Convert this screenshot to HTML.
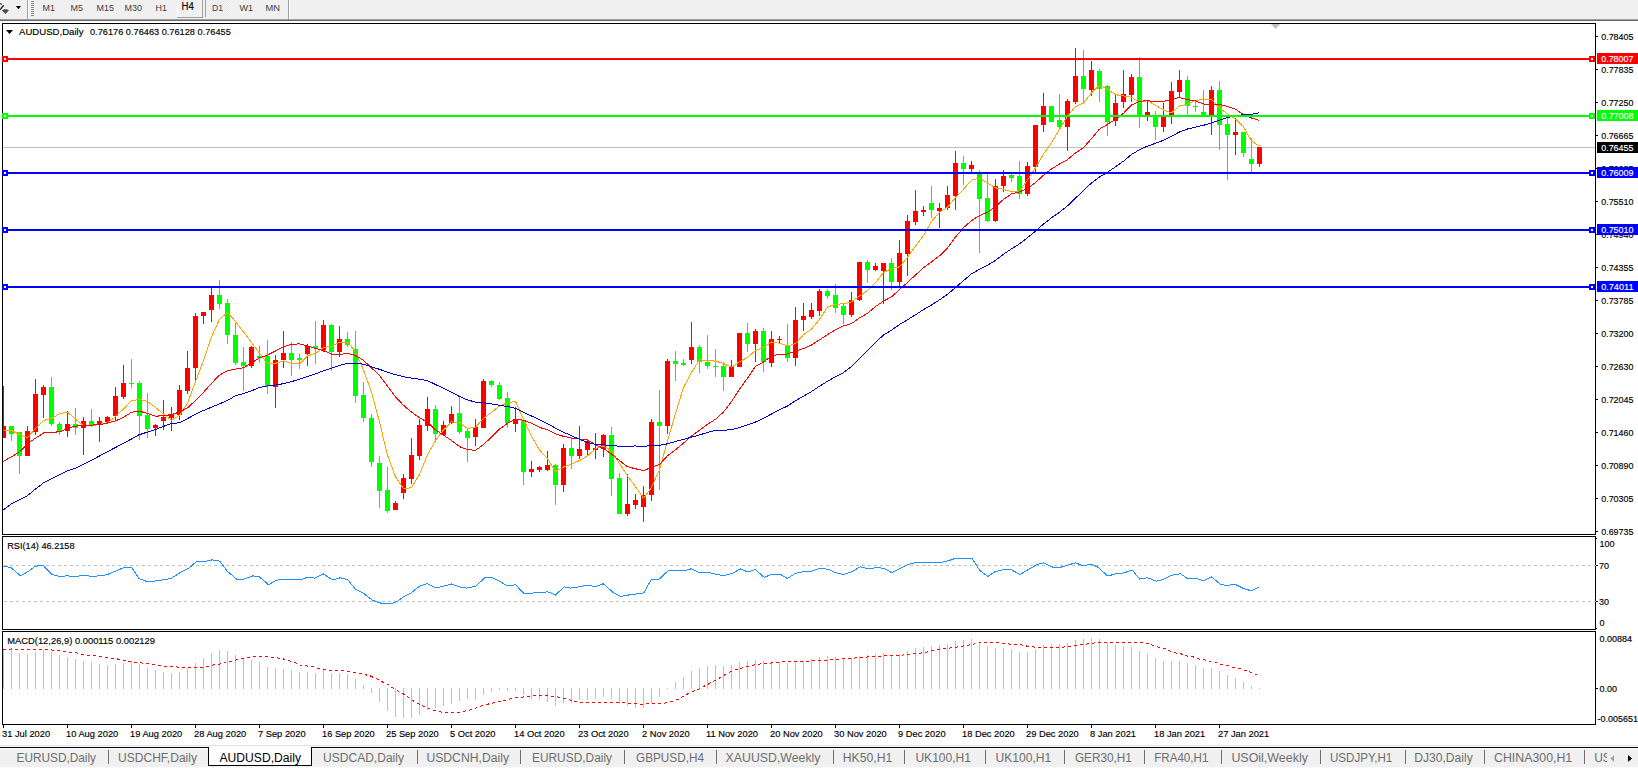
<!DOCTYPE html><html><head><meta charset="utf-8"><title>AUDUSD,Daily</title><style>
html,body{margin:0;padding:0;background:#fff;width:1638px;height:768px;overflow:hidden}
svg{position:absolute;left:0;top:0;display:block}
text{font-family:"Liberation Sans",sans-serif;}
</style></head><body>
<svg width="1638" height="768" viewBox="0 0 1638 768">
<g shape-rendering="crispEdges">
<rect x="0" y="0" width="1638" height="19" fill="#f0f0f0" />
<rect x="0" y="19" width="1638" height="1" fill="#a0a0a0" />
<rect x="0" y="20" width="1638" height="1" fill="#696969" />
<rect x="27" y="0" width="1" height="19" fill="#a0a0a0" />
<rect x="28" y="0" width="1" height="19" fill="#ffffff" />
<rect x="288" y="0" width="1" height="19" fill="#a0a0a0" />
<rect x="289" y="0" width="1" height="19" fill="#ffffff" />
<rect x="205" y="0" width="1" height="17" fill="#a0a0a0" />
<rect x="206" y="0" width="1" height="17" fill="#ffffff" />
<rect x="31" y="1" width="3" height="1" fill="#8a8a8a" />
<rect x="31" y="3" width="3" height="1" fill="#8a8a8a" />
<rect x="31" y="5" width="3" height="1" fill="#8a8a8a" />
<rect x="31" y="7" width="3" height="1" fill="#8a8a8a" />
<rect x="31" y="9" width="3" height="1" fill="#8a8a8a" />
<rect x="31" y="11" width="3" height="1" fill="#8a8a8a" />
<rect x="31" y="13" width="3" height="1" fill="#8a8a8a" />
<rect x="31" y="15" width="3" height="1" fill="#8a8a8a" />
<rect x="177" y="0" width="1" height="17" fill="#ffffff" />
<rect x="177" y="17" width="26" height="1" fill="#a0a0a0" />
<rect x="202" y="0" width="1" height="18" fill="#a0a0a0" />
</g>
<defs><pattern id="hatch" width="2" height="2" patternUnits="userSpaceOnUse"><rect width="2" height="2" fill="#f6f6f6"/><rect width="1" height="1" fill="#e6e6e6"/><rect x="1" y="1" width="1" height="1" fill="#e6e6e6"/></pattern></defs>
<rect x="206" y="0" width="24" height="17" fill="url(#hatch)" />
<path d="M0,3.6 L1.7,4.4" stroke="#3a3a3a" stroke-width="1.3" fill="none"/>
<path d="M3.7,5.3 L0,9.7" stroke="#3a3a3a" stroke-width="1.6" fill="none"/>
<path d="M4.2,9.2 L6.8,9.2 L8.9,10.4 L5.4,14 L2,10.4 Z" fill="#4a4a4a"/>
<path d="M15.9,6 L21,6 L18.5,9.2 Z" fill="#000"/>
<text x="42.5" y="11" font-size="9.8" fill="#404040" textLength="12.4" lengthAdjust="spacingAndGlyphs" >M1</text>
<text x="70.5" y="11" font-size="9.8" fill="#404040" textLength="12.4" lengthAdjust="spacingAndGlyphs" >M5</text>
<text x="96.5" y="11" font-size="9.8" fill="#404040" textLength="17.4" lengthAdjust="spacingAndGlyphs" >M15</text>
<text x="124.5" y="11" font-size="9.8" fill="#404040" textLength="17.5" lengthAdjust="spacingAndGlyphs" >M30</text>
<text x="155.5" y="11" font-size="9.8" fill="#404040" textLength="11.4" lengthAdjust="spacingAndGlyphs" >H1</text>
<text x="181.5" y="10.1" font-size="10" fill="#000" stroke="#000" stroke-width="0.15" textLength="12.3" lengthAdjust="spacingAndGlyphs" >H4</text>
<text x="212" y="11" font-size="9.8" fill="#404040" textLength="11" lengthAdjust="spacingAndGlyphs" >D1</text>
<text x="239.5" y="11" font-size="9.8" fill="#404040" textLength="13.6" lengthAdjust="spacingAndGlyphs" >W1</text>
<text x="265.5" y="11" font-size="9.8" fill="#404040" textLength="14.5" lengthAdjust="spacingAndGlyphs" >MN</text>
<g shape-rendering="crispEdges">
<rect x="2" y="23" width="1594" height="1" fill="#000" />
<rect x="2" y="534" width="1594" height="1" fill="#000" />
<rect x="2" y="23" width="1" height="512" fill="#000" />
<rect x="1595" y="23" width="1" height="512" fill="#000" />
<rect x="2" y="536" width="1594" height="1" fill="#000" />
<rect x="2" y="629" width="1594" height="1" fill="#000" />
<rect x="2" y="536" width="1" height="94" fill="#000" />
<rect x="1595" y="536" width="1" height="94" fill="#000" />
<rect x="2" y="631" width="1594" height="1" fill="#000" />
<rect x="2" y="724" width="1594" height="1" fill="#000" />
<rect x="2" y="631" width="1" height="94" fill="#000" />
<rect x="1595" y="631" width="1" height="94" fill="#000" />
</g>
<rect x="3" y="147" width="1592" height="1" fill="#c0c0c0" shape-rendering="crispEdges"/>
<g shape-rendering="crispEdges">
<rect x="3" y="386" width="1" height="52" fill="#ff0000" />
<rect x="3" y="426" width="3" height="12" fill="#ff0000" />
<rect x="11" y="426" width="1" height="15" fill="#00ff00" />
<rect x="9" y="426" width="5" height="8" fill="#00ff00" />
<rect x="19" y="432" width="1" height="42" fill="#00ff00" />
<rect x="17" y="432" width="5" height="24" fill="#00ff00" />
<rect x="27" y="426" width="1" height="30" fill="#ff0000" />
<rect x="25" y="431" width="5" height="25" fill="#ff0000" />
<rect x="35" y="379" width="1" height="56" fill="#ff0000" />
<rect x="33" y="394" width="5" height="38" fill="#ff0000" />
<rect x="43" y="385" width="1" height="33" fill="#ff0000" />
<rect x="41" y="387" width="5" height="8" fill="#ff0000" />
<rect x="51" y="377" width="1" height="49" fill="#00ff00" />
<rect x="49" y="387" width="5" height="37" fill="#00ff00" />
<rect x="59" y="422" width="1" height="13" fill="#00ff00" />
<rect x="57" y="424" width="5" height="7" fill="#00ff00" />
<rect x="67" y="411" width="1" height="26" fill="#ff0000" />
<rect x="65" y="424" width="5" height="7" fill="#ff0000" />
<rect x="75" y="408" width="1" height="27" fill="#00ff00" />
<rect x="73" y="424" width="5" height="4" fill="#00ff00" />
<rect x="83" y="417" width="1" height="38" fill="#ff0000" />
<rect x="81" y="421" width="5" height="7" fill="#ff0000" />
<rect x="91" y="409" width="1" height="18" fill="#00ff00" />
<rect x="89" y="421" width="5" height="4" fill="#00ff00" />
<rect x="99" y="417" width="1" height="25" fill="#ff0000" />
<rect x="97" y="421" width="5" height="3" fill="#ff0000" />
<rect x="107" y="416" width="1" height="6" fill="#ff0000" />
<rect x="105" y="417" width="5" height="5" fill="#ff0000" />
<rect x="115" y="387" width="1" height="33" fill="#ff0000" />
<rect x="113" y="396" width="5" height="20" fill="#ff0000" />
<rect x="123" y="365" width="1" height="34" fill="#ff0000" />
<rect x="121" y="383" width="5" height="14" fill="#ff0000" />
<rect x="131" y="359" width="1" height="29" fill="#00ff00" />
<rect x="129" y="383" width="5" height="1" fill="#00ff00" />
<rect x="139" y="381" width="1" height="59" fill="#00ff00" />
<rect x="137" y="383" width="5" height="33" fill="#00ff00" />
<rect x="147" y="393" width="1" height="45" fill="#00ff00" />
<rect x="145" y="415" width="5" height="14" fill="#00ff00" />
<rect x="155" y="424" width="1" height="12" fill="#ff0000" />
<rect x="153" y="425" width="5" height="3" fill="#ff0000" />
<rect x="163" y="400" width="1" height="30" fill="#ff0000" />
<rect x="161" y="417" width="5" height="4" fill="#ff0000" />
<rect x="171" y="407" width="1" height="24" fill="#ff0000" />
<rect x="169" y="414" width="5" height="4" fill="#ff0000" />
<rect x="179" y="385" width="1" height="35" fill="#ff0000" />
<rect x="177" y="390" width="5" height="25" fill="#ff0000" />
<rect x="187" y="351" width="1" height="43" fill="#ff0000" />
<rect x="185" y="368" width="5" height="23" fill="#ff0000" />
<rect x="195" y="313" width="1" height="67" fill="#ff0000" />
<rect x="193" y="316" width="5" height="52" fill="#ff0000" />
<rect x="203" y="312" width="1" height="12" fill="#ff0000" />
<rect x="201" y="312" width="5" height="4" fill="#ff0000" />
<rect x="211" y="288" width="1" height="34" fill="#ff0000" />
<rect x="209" y="295" width="5" height="15" fill="#ff0000" />
<rect x="219" y="280" width="1" height="29" fill="#00ff00" />
<rect x="217" y="295" width="5" height="9" fill="#00ff00" />
<rect x="227" y="299" width="1" height="45" fill="#00ff00" />
<rect x="225" y="303" width="5" height="32" fill="#00ff00" />
<rect x="235" y="323" width="1" height="42" fill="#00ff00" />
<rect x="233" y="335" width="5" height="28" fill="#00ff00" />
<rect x="243" y="347" width="1" height="44" fill="#00ff00" />
<rect x="241" y="362" width="5" height="4" fill="#00ff00" />
<rect x="251" y="346" width="1" height="22" fill="#ff0000" />
<rect x="249" y="347" width="5" height="19" fill="#ff0000" />
<rect x="259" y="346" width="1" height="17" fill="#00ff00" />
<rect x="257" y="356" width="5" height="2" fill="#00ff00" />
<rect x="267" y="340" width="1" height="54" fill="#00ff00" />
<rect x="265" y="356" width="5" height="30" fill="#00ff00" />
<rect x="275" y="355" width="1" height="53" fill="#ff0000" />
<rect x="273" y="360" width="5" height="27" fill="#ff0000" />
<rect x="283" y="331" width="1" height="37" fill="#ff0000" />
<rect x="281" y="353" width="5" height="7" fill="#ff0000" />
<rect x="291" y="342" width="1" height="34" fill="#00ff00" />
<rect x="289" y="353" width="5" height="7" fill="#00ff00" />
<rect x="299" y="354" width="1" height="15" fill="#00ff00" />
<rect x="297" y="358" width="5" height="2" fill="#00ff00" />
<rect x="307" y="344" width="1" height="22" fill="#ff0000" />
<rect x="305" y="346" width="5" height="8" fill="#ff0000" />
<rect x="315" y="321" width="1" height="43" fill="#00ff00" />
<rect x="313" y="346" width="5" height="2" fill="#00ff00" />
<rect x="323" y="320" width="1" height="32" fill="#ff0000" />
<rect x="321" y="325" width="5" height="25" fill="#ff0000" />
<rect x="331" y="324" width="1" height="47" fill="#00ff00" />
<rect x="329" y="325" width="5" height="27" fill="#00ff00" />
<rect x="339" y="326" width="1" height="31" fill="#ff0000" />
<rect x="337" y="339" width="5" height="13" fill="#ff0000" />
<rect x="347" y="332" width="1" height="15" fill="#00ff00" />
<rect x="345" y="339" width="5" height="6" fill="#00ff00" />
<rect x="355" y="331" width="1" height="72" fill="#00ff00" />
<rect x="353" y="349" width="5" height="47" fill="#00ff00" />
<rect x="363" y="382" width="1" height="40" fill="#00ff00" />
<rect x="361" y="395" width="5" height="23" fill="#00ff00" />
<rect x="371" y="414" width="1" height="53" fill="#00ff00" />
<rect x="369" y="418" width="5" height="44" fill="#00ff00" />
<rect x="379" y="456" width="1" height="52" fill="#00ff00" />
<rect x="377" y="463" width="5" height="28" fill="#00ff00" />
<rect x="387" y="467" width="1" height="46" fill="#00ff00" />
<rect x="385" y="490" width="5" height="21" fill="#00ff00" />
<rect x="395" y="501" width="1" height="9" fill="#ff0000" />
<rect x="393" y="503" width="5" height="7" fill="#ff0000" />
<rect x="403" y="474" width="1" height="25" fill="#ff0000" />
<rect x="401" y="478" width="5" height="15" fill="#ff0000" />
<rect x="411" y="438" width="1" height="46" fill="#ff0000" />
<rect x="409" y="455" width="5" height="24" fill="#ff0000" />
<rect x="419" y="419" width="1" height="41" fill="#ff0000" />
<rect x="417" y="425" width="5" height="31" fill="#ff0000" />
<rect x="427" y="397" width="1" height="34" fill="#ff0000" />
<rect x="425" y="409" width="5" height="17" fill="#ff0000" />
<rect x="435" y="405" width="1" height="37" fill="#00ff00" />
<rect x="433" y="409" width="5" height="25" fill="#00ff00" />
<rect x="443" y="421" width="1" height="14" fill="#ff0000" />
<rect x="441" y="425" width="5" height="10" fill="#ff0000" />
<rect x="451" y="406" width="1" height="18" fill="#ff0000" />
<rect x="449" y="414" width="5" height="9" fill="#ff0000" />
<rect x="459" y="396" width="1" height="38" fill="#00ff00" />
<rect x="457" y="413" width="5" height="19" fill="#00ff00" />
<rect x="467" y="428" width="1" height="34" fill="#00ff00" />
<rect x="465" y="431" width="5" height="7" fill="#00ff00" />
<rect x="475" y="419" width="1" height="27" fill="#ff0000" />
<rect x="473" y="427" width="5" height="10" fill="#ff0000" />
<rect x="483" y="379" width="1" height="49" fill="#ff0000" />
<rect x="481" y="381" width="5" height="47" fill="#ff0000" />
<rect x="491" y="380" width="1" height="7" fill="#00ff00" />
<rect x="489" y="381" width="5" height="4" fill="#00ff00" />
<rect x="499" y="382" width="1" height="18" fill="#00ff00" />
<rect x="497" y="385" width="5" height="14" fill="#00ff00" />
<rect x="507" y="392" width="1" height="36" fill="#00ff00" />
<rect x="505" y="398" width="5" height="25" fill="#00ff00" />
<rect x="515" y="407" width="1" height="25" fill="#ff0000" />
<rect x="513" y="419" width="5" height="5" fill="#ff0000" />
<rect x="523" y="420" width="1" height="65" fill="#00ff00" />
<rect x="521" y="420" width="5" height="52" fill="#00ff00" />
<rect x="531" y="461" width="1" height="16" fill="#ff0000" />
<rect x="529" y="469" width="5" height="3" fill="#ff0000" />
<rect x="539" y="466" width="1" height="6" fill="#ff0000" />
<rect x="537" y="467" width="5" height="3" fill="#ff0000" />
<rect x="547" y="451" width="1" height="20" fill="#ff0000" />
<rect x="545" y="465" width="5" height="5" fill="#ff0000" />
<rect x="555" y="464" width="1" height="41" fill="#00ff00" />
<rect x="553" y="465" width="5" height="20" fill="#00ff00" />
<rect x="563" y="444" width="1" height="48" fill="#ff0000" />
<rect x="561" y="448" width="5" height="37" fill="#ff0000" />
<rect x="571" y="439" width="1" height="30" fill="#00ff00" />
<rect x="569" y="448" width="5" height="8" fill="#00ff00" />
<rect x="579" y="426" width="1" height="33" fill="#ff0000" />
<rect x="577" y="449" width="5" height="7" fill="#ff0000" />
<rect x="587" y="440" width="1" height="15" fill="#ff0000" />
<rect x="585" y="441" width="5" height="9" fill="#ff0000" />
<rect x="595" y="433" width="1" height="26" fill="#ff0000" />
<rect x="593" y="448" width="5" height="2" fill="#ff0000" />
<rect x="603" y="434" width="1" height="23" fill="#ff0000" />
<rect x="601" y="435" width="5" height="14" fill="#ff0000" />
<rect x="611" y="427" width="1" height="69" fill="#00ff00" />
<rect x="609" y="435" width="5" height="44" fill="#00ff00" />
<rect x="619" y="473" width="1" height="41" fill="#00ff00" />
<rect x="617" y="478" width="5" height="36" fill="#00ff00" />
<rect x="627" y="474" width="1" height="42" fill="#ff0000" />
<rect x="625" y="504" width="5" height="10" fill="#ff0000" />
<rect x="635" y="494" width="1" height="15" fill="#ff0000" />
<rect x="633" y="500" width="5" height="5" fill="#ff0000" />
<rect x="643" y="486" width="1" height="36" fill="#ff0000" />
<rect x="641" y="495" width="5" height="12" fill="#ff0000" />
<rect x="651" y="419" width="1" height="82" fill="#ff0000" />
<rect x="649" y="422" width="5" height="73" fill="#ff0000" />
<rect x="659" y="390" width="1" height="100" fill="#00ff00" />
<rect x="657" y="422" width="5" height="4" fill="#00ff00" />
<rect x="667" y="359" width="1" height="75" fill="#ff0000" />
<rect x="665" y="361" width="5" height="65" fill="#ff0000" />
<rect x="675" y="351" width="1" height="30" fill="#00ff00" />
<rect x="673" y="361" width="5" height="3" fill="#00ff00" />
<rect x="683" y="359" width="1" height="7" fill="#00ff00" />
<rect x="681" y="363" width="5" height="2" fill="#00ff00" />
<rect x="691" y="322" width="1" height="42" fill="#ff0000" />
<rect x="689" y="347" width="5" height="13" fill="#ff0000" />
<rect x="699" y="345" width="1" height="28" fill="#00ff00" />
<rect x="697" y="347" width="5" height="15" fill="#00ff00" />
<rect x="707" y="335" width="1" height="34" fill="#00ff00" />
<rect x="705" y="362" width="5" height="4" fill="#00ff00" />
<rect x="715" y="349" width="1" height="28" fill="#00ff00" />
<rect x="713" y="366" width="5" height="1" fill="#00ff00" />
<rect x="723" y="362" width="1" height="29" fill="#00ff00" />
<rect x="721" y="366" width="5" height="11" fill="#00ff00" />
<rect x="731" y="360" width="1" height="17" fill="#ff0000" />
<rect x="729" y="367" width="5" height="10" fill="#ff0000" />
<rect x="739" y="333" width="1" height="34" fill="#ff0000" />
<rect x="737" y="333" width="5" height="34" fill="#ff0000" />
<rect x="747" y="323" width="1" height="29" fill="#00ff00" />
<rect x="745" y="333" width="5" height="11" fill="#00ff00" />
<rect x="755" y="329" width="1" height="33" fill="#ff0000" />
<rect x="753" y="331" width="5" height="13" fill="#ff0000" />
<rect x="763" y="328" width="1" height="44" fill="#00ff00" />
<rect x="761" y="331" width="5" height="31" fill="#00ff00" />
<rect x="771" y="331" width="1" height="36" fill="#ff0000" />
<rect x="769" y="339" width="5" height="24" fill="#ff0000" />
<rect x="779" y="336" width="1" height="7" fill="#ff0000" />
<rect x="777" y="339" width="5" height="1" fill="#ff0000" />
<rect x="787" y="324" width="1" height="38" fill="#00ff00" />
<rect x="785" y="345" width="5" height="13" fill="#00ff00" />
<rect x="795" y="307" width="1" height="59" fill="#ff0000" />
<rect x="793" y="320" width="5" height="38" fill="#ff0000" />
<rect x="803" y="303" width="1" height="28" fill="#ff0000" />
<rect x="801" y="316" width="5" height="4" fill="#ff0000" />
<rect x="811" y="303" width="1" height="16" fill="#ff0000" />
<rect x="809" y="310" width="5" height="7" fill="#ff0000" />
<rect x="819" y="289" width="1" height="27" fill="#ff0000" />
<rect x="817" y="291" width="5" height="20" fill="#ff0000" />
<rect x="827" y="289" width="1" height="10" fill="#00ff00" />
<rect x="825" y="291" width="5" height="5" fill="#00ff00" />
<rect x="835" y="284" width="1" height="29" fill="#00ff00" />
<rect x="833" y="295" width="5" height="13" fill="#00ff00" />
<rect x="843" y="304" width="1" height="20" fill="#00ff00" />
<rect x="841" y="306" width="5" height="9" fill="#00ff00" />
<rect x="851" y="292" width="1" height="25" fill="#ff0000" />
<rect x="849" y="300" width="5" height="15" fill="#ff0000" />
<rect x="859" y="262" width="1" height="39" fill="#ff0000" />
<rect x="857" y="262" width="5" height="38" fill="#ff0000" />
<rect x="867" y="260" width="1" height="23" fill="#00ff00" />
<rect x="865" y="262" width="5" height="8" fill="#00ff00" />
<rect x="875" y="263" width="1" height="8" fill="#ff0000" />
<rect x="873" y="266" width="5" height="4" fill="#ff0000" />
<rect x="883" y="263" width="1" height="41" fill="#ff0000" />
<rect x="881" y="263" width="5" height="8" fill="#ff0000" />
<rect x="891" y="258" width="1" height="32" fill="#00ff00" />
<rect x="889" y="263" width="5" height="19" fill="#00ff00" />
<rect x="899" y="240" width="1" height="46" fill="#ff0000" />
<rect x="897" y="253" width="5" height="29" fill="#ff0000" />
<rect x="907" y="215" width="1" height="61" fill="#ff0000" />
<rect x="905" y="221" width="5" height="33" fill="#ff0000" />
<rect x="915" y="190" width="1" height="35" fill="#ff0000" />
<rect x="913" y="211" width="5" height="11" fill="#ff0000" />
<rect x="923" y="206" width="1" height="10" fill="#ff0000" />
<rect x="921" y="210" width="5" height="2" fill="#ff0000" />
<rect x="931" y="186" width="1" height="32" fill="#00ff00" />
<rect x="929" y="203" width="5" height="7" fill="#00ff00" />
<rect x="939" y="203" width="1" height="25" fill="#ff0000" />
<rect x="937" y="208" width="5" height="3" fill="#ff0000" />
<rect x="947" y="186" width="1" height="24" fill="#ff0000" />
<rect x="945" y="195" width="5" height="13" fill="#ff0000" />
<rect x="955" y="151" width="1" height="59" fill="#ff0000" />
<rect x="953" y="163" width="5" height="33" fill="#ff0000" />
<rect x="963" y="156" width="1" height="29" fill="#00ff00" />
<rect x="961" y="163" width="5" height="6" fill="#00ff00" />
<rect x="971" y="161" width="1" height="11" fill="#ff0000" />
<rect x="969" y="165" width="5" height="4" fill="#ff0000" />
<rect x="979" y="170" width="1" height="83" fill="#00ff00" />
<rect x="977" y="173" width="5" height="26" fill="#00ff00" />
<rect x="987" y="174" width="1" height="48" fill="#00ff00" />
<rect x="985" y="198" width="5" height="23" fill="#00ff00" />
<rect x="995" y="179" width="1" height="43" fill="#ff0000" />
<rect x="993" y="186" width="5" height="35" fill="#ff0000" />
<rect x="1003" y="170" width="1" height="22" fill="#ff0000" />
<rect x="1001" y="176" width="5" height="10" fill="#ff0000" />
<rect x="1011" y="174" width="1" height="8" fill="#00ff00" />
<rect x="1009" y="175" width="5" height="3" fill="#00ff00" />
<rect x="1019" y="161" width="1" height="38" fill="#00ff00" />
<rect x="1017" y="176" width="5" height="18" fill="#00ff00" />
<rect x="1027" y="162" width="1" height="34" fill="#ff0000" />
<rect x="1025" y="166" width="5" height="28" fill="#ff0000" />
<rect x="1035" y="125" width="1" height="47" fill="#ff0000" />
<rect x="1033" y="125" width="5" height="42" fill="#ff0000" />
<rect x="1043" y="93" width="1" height="39" fill="#ff0000" />
<rect x="1041" y="106" width="5" height="19" fill="#ff0000" />
<rect x="1051" y="106" width="1" height="16" fill="#00ff00" />
<rect x="1049" y="106" width="5" height="16" fill="#00ff00" />
<rect x="1059" y="94" width="1" height="35" fill="#00ff00" />
<rect x="1057" y="120" width="5" height="7" fill="#00ff00" />
<rect x="1067" y="99" width="1" height="52" fill="#ff0000" />
<rect x="1065" y="101" width="5" height="26" fill="#ff0000" />
<rect x="1075" y="48" width="1" height="56" fill="#ff0000" />
<rect x="1073" y="76" width="5" height="26" fill="#ff0000" />
<rect x="1083" y="50" width="1" height="53" fill="#00ff00" />
<rect x="1081" y="76" width="5" height="13" fill="#00ff00" />
<rect x="1091" y="61" width="1" height="35" fill="#ff0000" />
<rect x="1089" y="70" width="5" height="20" fill="#ff0000" />
<rect x="1099" y="69" width="1" height="33" fill="#00ff00" />
<rect x="1097" y="71" width="5" height="18" fill="#00ff00" />
<rect x="1107" y="85" width="1" height="51" fill="#00ff00" />
<rect x="1105" y="86" width="5" height="36" fill="#00ff00" />
<rect x="1115" y="95" width="1" height="31" fill="#ff0000" />
<rect x="1113" y="103" width="5" height="18" fill="#ff0000" />
<rect x="1123" y="70" width="1" height="38" fill="#ff0000" />
<rect x="1121" y="94" width="5" height="8" fill="#ff0000" />
<rect x="1131" y="74" width="1" height="28" fill="#ff0000" />
<rect x="1129" y="77" width="5" height="18" fill="#ff0000" />
<rect x="1139" y="57" width="1" height="71" fill="#00ff00" />
<rect x="1137" y="77" width="5" height="39" fill="#00ff00" />
<rect x="1147" y="100" width="1" height="21" fill="#ff0000" />
<rect x="1145" y="112" width="5" height="3" fill="#ff0000" />
<rect x="1155" y="111" width="1" height="29" fill="#00ff00" />
<rect x="1153" y="115" width="5" height="12" fill="#00ff00" />
<rect x="1163" y="103" width="1" height="29" fill="#ff0000" />
<rect x="1161" y="117" width="5" height="10" fill="#ff0000" />
<rect x="1171" y="82" width="1" height="42" fill="#ff0000" />
<rect x="1169" y="91" width="5" height="24" fill="#ff0000" />
<rect x="1179" y="70" width="1" height="28" fill="#ff0000" />
<rect x="1177" y="80" width="5" height="12" fill="#ff0000" />
<rect x="1187" y="76" width="1" height="39" fill="#00ff00" />
<rect x="1185" y="80" width="5" height="26" fill="#00ff00" />
<rect x="1195" y="100" width="1" height="12" fill="#00ff00" />
<rect x="1193" y="106" width="5" height="1" fill="#00ff00" />
<rect x="1203" y="90" width="1" height="25" fill="#00ff00" />
<rect x="1201" y="112" width="5" height="3" fill="#00ff00" />
<rect x="1211" y="86" width="1" height="49" fill="#ff0000" />
<rect x="1209" y="90" width="5" height="25" fill="#ff0000" />
<rect x="1219" y="81" width="1" height="69" fill="#00ff00" />
<rect x="1217" y="90" width="5" height="35" fill="#00ff00" />
<rect x="1227" y="118" width="1" height="62" fill="#00ff00" />
<rect x="1225" y="124" width="5" height="11" fill="#00ff00" />
<rect x="1235" y="118" width="1" height="37" fill="#ff0000" />
<rect x="1233" y="132" width="5" height="3" fill="#ff0000" />
<rect x="1243" y="132" width="1" height="25" fill="#00ff00" />
<rect x="1241" y="132" width="5" height="21" fill="#00ff00" />
<rect x="1251" y="138" width="1" height="34" fill="#00ff00" />
<rect x="1249" y="159" width="5" height="5" fill="#00ff00" />
<rect x="1259" y="147" width="1" height="20" fill="#ff0000" />
<rect x="1257" y="147" width="5" height="17" fill="#ff0000" />
</g>
<g clip-path="url(#mainclip)">
<clipPath id="mainclip"><rect x="3" y="24" width="1592" height="510"/></clipPath>
<polyline points="3.5,430.0 11.5,430.5 19.5,434.5 27.5,437.7 35.5,428.3 43.5,420.5 51.5,418.6 59.5,413.7 67.5,412.3 75.5,419.0 83.5,425.8 91.5,426.0 99.5,424.3 107.5,422.8 115.5,416.6 123.5,408.9 131.5,400.7 139.5,399.4 147.5,401.5 155.5,407.3 163.5,414.1 171.5,420.2 179.5,415.3 187.5,403.4 195.5,381.6 203.5,360.6 211.5,336.8 219.5,319.3 227.5,312.4 235.5,321.5 243.5,332.0 251.5,342.4 259.5,353.3 267.5,363.6 275.5,363.3 283.5,361.0 291.5,363.4 299.5,363.9 307.5,356.0 315.5,353.3 323.5,347.7 331.5,346.3 339.5,342.3 347.5,342.0 355.5,351.5 363.5,370.0 371.5,392.0 379.5,422.1 387.5,455.1 395.5,476.8 403.5,488.9 411.5,487.6 419.5,474.6 427.5,454.6 435.5,440.5 443.5,429.9 451.5,421.8 459.5,422.9 467.5,428.4 475.5,427.3 483.5,418.4 491.5,412.4 499.5,405.9 507.5,402.9 515.5,401.3 523.5,419.2 531.5,436.3 539.5,450.0 547.5,458.7 555.5,471.6 563.5,467.0 571.5,464.1 579.5,460.6 587.5,455.8 595.5,448.6 603.5,446.0 611.5,450.7 619.5,463.5 627.5,476.1 635.5,486.6 643.5,498.5 651.5,487.3 659.5,469.6 667.5,441.0 675.5,413.5 683.5,387.4 691.5,372.4 699.5,359.8 707.5,360.5 715.5,361.1 723.5,363.5 731.5,367.4 739.5,361.6 747.5,357.4 755.5,350.5 763.5,347.6 771.5,342.0 779.5,343.3 787.5,345.9 795.5,343.7 803.5,334.7 811.5,329.0 819.5,319.4 827.5,307.0 835.5,304.3 843.5,303.8 851.5,301.8 859.5,296.0 867.5,290.8 875.5,282.7 883.5,272.5 891.5,268.6 899.5,266.8 907.5,257.3 915.5,246.2 923.5,235.6 931.5,221.4 939.5,212.4 947.5,207.2 955.5,197.6 963.5,189.2 971.5,180.2 979.5,178.2 987.5,183.1 995.5,187.8 1003.5,189.4 1011.5,191.9 1019.5,190.9 1027.5,180.1 1035.5,167.8 1043.5,153.9 1051.5,142.6 1059.5,129.4 1067.5,116.3 1075.5,106.5 1083.5,103.0 1091.5,92.8 1099.5,85.2 1107.5,89.3 1115.5,94.7 1123.5,95.9 1131.5,97.2 1139.5,102.5 1147.5,100.7 1155.5,105.3 1163.5,110.0 1171.5,112.8 1179.5,105.9 1187.5,104.3 1195.5,100.3 1203.5,99.6 1211.5,99.4 1219.5,108.1 1227.5,113.9 1235.5,119.1 1243.5,126.7 1251.5,141.2 1259.5,145.9" fill="none" stroke="#ffa500" stroke-width="1" shape-rendering="crispEdges" />
<polyline points="3.1,461.6 18.7,452.5 30.5,441.5 43.5,433.0 60.5,431.7 68.2,427.8 78.5,425.8 91.5,425.2 104.5,423.9 107.5,423.0 115.5,420.9 123.5,417.3 131.5,412.2 139.5,411.1 147.5,413.5 155.5,416.2 163.5,415.7 171.5,414.6 179.5,412.1 187.5,407.9 195.5,400.4 203.5,392.4 211.5,383.3 219.5,375.1 227.5,370.7 235.5,369.1 243.5,367.8 251.5,363.0 259.5,357.9 267.5,355.1 275.5,351.0 283.5,346.7 291.5,344.4 299.5,343.8 307.5,346.0 315.5,348.4 323.5,350.6 331.5,354.1 339.5,354.5 347.5,353.3 355.5,355.4 363.5,360.4 371.5,367.9 379.5,375.4 387.5,386.1 395.5,396.8 403.5,405.3 411.5,412.1 419.5,417.7 427.5,422.2 435.5,429.9 443.5,435.1 451.5,440.5 459.5,446.6 467.5,449.7 475.5,450.3 483.5,444.6 491.5,437.0 499.5,429.1 507.5,423.3 515.5,419.0 523.5,420.2 531.5,423.3 539.5,427.4 547.5,429.8 555.5,433.9 563.5,436.3 571.5,438.1 579.5,438.9 587.5,439.9 595.5,444.7 603.5,448.4 611.5,454.1 619.5,460.6 627.5,466.7 635.5,468.8 643.5,470.6 651.5,467.4 659.5,464.5 667.5,455.7 675.5,449.7 683.5,443.2 691.5,435.9 699.5,430.2 707.5,424.3 715.5,419.3 723.5,412.0 731.5,401.6 739.5,389.3 747.5,378.1 755.5,366.4 763.5,362.1 771.5,356.0 779.5,354.4 787.5,354.0 795.5,350.9 803.5,348.6 811.5,345.0 819.5,339.8 827.5,334.7 835.5,329.7 843.5,325.9 851.5,323.6 859.5,317.8 867.5,313.3 875.5,306.6 883.5,301.1 891.5,296.9 899.5,289.5 907.5,282.5 915.5,275.0 923.5,267.8 931.5,261.9 939.5,255.8 947.5,247.8 955.5,237.0 963.5,227.6 971.5,220.6 979.5,215.5 987.5,212.2 995.5,206.8 1003.5,199.3 1011.5,193.9 1019.5,191.8 1027.5,188.6 1035.5,182.6 1043.5,175.2 1051.5,169.0 1059.5,164.0 1067.5,159.6 1075.5,153.0 1083.5,147.6 1091.5,138.5 1099.5,129.1 1107.5,124.4 1115.5,119.2 1123.5,113.3 1131.5,105.0 1139.5,101.4 1147.5,100.5 1155.5,101.9 1163.5,101.6 1171.5,99.1 1179.5,97.6 1187.5,99.7 1195.5,100.9 1203.5,104.0 1211.5,104.2 1219.5,104.3 1227.5,106.5 1235.5,109.2 1243.5,114.6 1251.5,118.0 1259.5,120.5" fill="none" stroke="#ff0000" stroke-width="1" shape-rendering="crispEdges" />
<polyline points="3.6,509.8 12.0,503.5 21.3,498.8 27.5,495.7 34.9,489.5 44.3,482.2 54.7,477.0 65.1,471.8 74.5,468.6 84.9,463.4 96.3,457.7 108.5,451.2 130.5,439.5 138.5,435.0 156.5,429.1 169.5,424.1 180.2,422.5 199.5,412.2 227.5,400.5 235.5,395.7 243.5,393.6 251.5,390.8 259.5,387.5 267.5,386.0 275.5,384.9 283.5,383.7 291.5,381.6 299.5,379.2 307.5,376.6 315.5,373.9 323.5,370.7 331.5,368.3 339.5,365.6 347.5,363.1 355.5,363.1 363.5,364.2 371.5,366.8 379.5,369.3 387.5,372.1 395.5,374.7 403.5,376.7 411.5,378.1 419.5,379.2 427.5,380.6 435.5,384.5 443.5,388.3 451.5,392.2 459.5,396.5 467.5,399.9 475.5,402.1 483.5,402.7 491.5,403.9 499.5,405.3 507.5,406.5 515.5,408.4 523.5,412.4 531.5,416.0 539.5,419.6 547.5,423.6 555.5,428.2 563.5,432.2 571.5,435.7 579.5,439.3 587.5,442.6 595.5,444.3 603.5,444.9 611.5,445.5 619.5,446.3 627.5,446.1 635.5,446.0 643.5,446.5 651.5,445.4 659.5,445.4 667.5,443.8 675.5,441.5 683.5,439.4 691.5,437.2 699.5,434.9 707.5,432.5 715.5,430.4 723.5,430.3 731.5,429.7 739.5,427.5 747.5,424.9 755.5,422.0 763.5,418.3 771.5,414.0 779.5,409.7 787.5,406.1 795.5,400.7 803.5,396.3 811.5,391.5 819.5,386.2 827.5,381.3 835.5,376.6 843.5,372.6 851.5,366.6 859.5,358.3 867.5,350.4 875.5,342.6 883.5,334.9 891.5,330.2 899.5,324.5 907.5,319.8 915.5,314.8 923.5,309.6 931.5,305.0 939.5,299.9 947.5,294.3 955.5,287.5 963.5,280.6 971.5,273.8 979.5,269.3 987.5,265.2 995.5,260.4 1003.5,254.2 1011.5,248.8 1019.5,243.9 1027.5,237.6 1035.5,231.1 1043.5,224.1 1051.5,217.8 1059.5,212.3 1067.5,205.8 1075.5,198.1 1083.5,190.6 1091.5,182.9 1099.5,177.1 1107.5,172.2 1115.5,166.8 1123.5,161.2 1131.5,154.4 1139.5,149.8 1147.5,146.1 1155.5,143.3 1163.5,140.2 1171.5,136.3 1179.5,132.0 1187.5,129.0 1195.5,127.1 1203.5,125.3 1211.5,122.8 1219.5,120.3 1227.5,117.5 1235.5,115.6 1243.5,114.8 1251.5,114.3 1259.5,112.8" fill="none" stroke="#0000c8" stroke-width="1" shape-rendering="crispEdges" />
</g>
<g shape-rendering="crispEdges">
<rect x="3" y="58" width="1592" height="2" fill="#ff0000" />
<rect x="2" y="56" width="6" height="6" fill="#ff0000" />
<rect x="4" y="58" width="2" height="2" fill="#fff" />
<rect x="1589" y="56" width="6" height="6" fill="#ff0000" />
<rect x="1591" y="58" width="2" height="2" fill="#fff" />
<rect x="3" y="115" width="1592" height="2" fill="#00ff00" />
<rect x="2" y="113" width="6" height="6" fill="#00ff00" />
<rect x="4" y="115" width="2" height="2" fill="#fff" />
<rect x="1589" y="113" width="6" height="6" fill="#00ff00" />
<rect x="1591" y="115" width="2" height="2" fill="#fff" />
<rect x="3" y="172" width="1592" height="2" fill="#0000ff" />
<rect x="2" y="170" width="6" height="6" fill="#0000ff" />
<rect x="4" y="172" width="2" height="2" fill="#fff" />
<rect x="1589" y="170" width="6" height="6" fill="#0000ff" />
<rect x="1591" y="172" width="2" height="2" fill="#fff" />
<rect x="3" y="229" width="1592" height="2" fill="#0000ff" />
<rect x="2" y="227" width="6" height="6" fill="#0000ff" />
<rect x="4" y="229" width="2" height="2" fill="#fff" />
<rect x="1589" y="227" width="6" height="6" fill="#0000ff" />
<rect x="1591" y="229" width="2" height="2" fill="#fff" />
<rect x="3" y="286" width="1592" height="2" fill="#0000ff" />
<rect x="2" y="284" width="6" height="6" fill="#0000ff" />
<rect x="4" y="286" width="2" height="2" fill="#fff" />
<rect x="1589" y="284" width="6" height="6" fill="#0000ff" />
<rect x="1591" y="286" width="2" height="2" fill="#fff" />
</g>
<path d="M1271,24 L1280,24 L1275.5,29 Z" fill="#c0c0c0"/>
<path d="M6,30 L13,30 L9.5,34 Z" fill="#000"/>
<text x="19" y="34.8" font-size="9.6" fill="#000" stroke="#000" stroke-width="0.15" textLength="64.5" lengthAdjust="spacingAndGlyphs" >AUDUSD,Daily</text>
<text x="90" y="34.8" font-size="9.6" fill="#000" stroke="#000" stroke-width="0.15" textLength="140.8" lengthAdjust="spacingAndGlyphs" >0.76176 0.76463 0.76128 0.76455</text>
<g shape-rendering="crispEdges">
<rect x="1596" y="36" width="2" height="1" fill="#000" />
<rect x="1596" y="69" width="2" height="1" fill="#000" />
<rect x="1596" y="102" width="2" height="1" fill="#000" />
<rect x="1596" y="135" width="2" height="1" fill="#000" />
<rect x="1596" y="168" width="2" height="1" fill="#000" />
<rect x="1596" y="201" width="2" height="1" fill="#000" />
<rect x="1596" y="234" width="2" height="1" fill="#000" />
<rect x="1596" y="267" width="2" height="1" fill="#000" />
<rect x="1596" y="300" width="2" height="1" fill="#000" />
<rect x="1596" y="333" width="2" height="1" fill="#000" />
<rect x="1596" y="366" width="2" height="1" fill="#000" />
<rect x="1596" y="399" width="2" height="1" fill="#000" />
<rect x="1596" y="432" width="2" height="1" fill="#000" />
<rect x="1596" y="465" width="2" height="1" fill="#000" />
<rect x="1596" y="498" width="2" height="1" fill="#000" />
<rect x="1596" y="531" width="2" height="1" fill="#000" />
</g>
<text x="1601.2" y="39.9" font-size="9.5" fill="#000" stroke="#000" stroke-width="0.15" textLength="32.3" lengthAdjust="spacingAndGlyphs" >0.78405</text>
<text x="1601.2" y="72.9" font-size="9.5" fill="#000" stroke="#000" stroke-width="0.15" textLength="32.3" lengthAdjust="spacingAndGlyphs" >0.77835</text>
<text x="1601.2" y="105.9" font-size="9.5" fill="#000" stroke="#000" stroke-width="0.15" textLength="32.3" lengthAdjust="spacingAndGlyphs" >0.77250</text>
<text x="1601.2" y="138.9" font-size="9.5" fill="#000" stroke="#000" stroke-width="0.15" textLength="32.3" lengthAdjust="spacingAndGlyphs" >0.76665</text>
<text x="1601.2" y="171.9" font-size="9.5" fill="#000" stroke="#000" stroke-width="0.15" textLength="32.3" lengthAdjust="spacingAndGlyphs" >0.76085</text>
<text x="1601.2" y="204.9" font-size="9.5" fill="#000" stroke="#000" stroke-width="0.15" textLength="32.3" lengthAdjust="spacingAndGlyphs" >0.75510</text>
<text x="1601.2" y="237.9" font-size="9.5" fill="#000" stroke="#000" stroke-width="0.15" textLength="32.3" lengthAdjust="spacingAndGlyphs" >0.74940</text>
<text x="1601.2" y="270.9" font-size="9.5" fill="#000" stroke="#000" stroke-width="0.15" textLength="32.3" lengthAdjust="spacingAndGlyphs" >0.74355</text>
<text x="1601.2" y="303.9" font-size="9.5" fill="#000" stroke="#000" stroke-width="0.15" textLength="32.3" lengthAdjust="spacingAndGlyphs" >0.73785</text>
<text x="1601.2" y="336.9" font-size="9.5" fill="#000" stroke="#000" stroke-width="0.15" textLength="32.3" lengthAdjust="spacingAndGlyphs" >0.73200</text>
<text x="1601.2" y="369.9" font-size="9.5" fill="#000" stroke="#000" stroke-width="0.15" textLength="32.3" lengthAdjust="spacingAndGlyphs" >0.72630</text>
<text x="1601.2" y="402.9" font-size="9.5" fill="#000" stroke="#000" stroke-width="0.15" textLength="32.3" lengthAdjust="spacingAndGlyphs" >0.72045</text>
<text x="1601.2" y="435.9" font-size="9.5" fill="#000" stroke="#000" stroke-width="0.15" textLength="32.3" lengthAdjust="spacingAndGlyphs" >0.71460</text>
<text x="1601.2" y="468.9" font-size="9.5" fill="#000" stroke="#000" stroke-width="0.15" textLength="32.3" lengthAdjust="spacingAndGlyphs" >0.70890</text>
<text x="1601.2" y="501.9" font-size="9.5" fill="#000" stroke="#000" stroke-width="0.15" textLength="32.3" lengthAdjust="spacingAndGlyphs" >0.70305</text>
<text x="1601.2" y="534.9" font-size="9.5" fill="#000" stroke="#000" stroke-width="0.15" textLength="32.3" lengthAdjust="spacingAndGlyphs" >0.69735</text>
<rect x="1597" y="53" width="41" height="11" fill="#ff0000" shape-rendering="crispEdges"/>
<text x="1601.2" y="61.7" font-size="9.5" fill="#fff" stroke="#fff" stroke-width="0.15" textLength="32.3" lengthAdjust="spacingAndGlyphs" >0.78007</text>
<rect x="1597" y="110" width="41" height="11" fill="#00ff00" shape-rendering="crispEdges"/>
<text x="1601.2" y="118.7" font-size="9.5" fill="#fff" stroke="#fff" stroke-width="0.15" textLength="32.3" lengthAdjust="spacingAndGlyphs" >0.77008</text>
<rect x="1597" y="142" width="41" height="11" fill="#000000" shape-rendering="crispEdges"/>
<text x="1601.2" y="150.7" font-size="9.5" fill="#fff" stroke="#fff" stroke-width="0.15" textLength="32.3" lengthAdjust="spacingAndGlyphs" >0.76455</text>
<rect x="1597" y="167" width="41" height="11" fill="#0000ff" shape-rendering="crispEdges"/>
<text x="1601.2" y="175.7" font-size="9.5" fill="#fff" stroke="#fff" stroke-width="0.15" textLength="32.3" lengthAdjust="spacingAndGlyphs" >0.76009</text>
<rect x="1597" y="224" width="41" height="11" fill="#0000ff" shape-rendering="crispEdges"/>
<text x="1601.2" y="232.7" font-size="9.5" fill="#fff" stroke="#fff" stroke-width="0.15" textLength="32.3" lengthAdjust="spacingAndGlyphs" >0.75010</text>
<rect x="1597" y="281" width="41" height="11" fill="#0000ff" shape-rendering="crispEdges"/>
<text x="1601.2" y="289.7" font-size="9.5" fill="#fff" stroke="#fff" stroke-width="0.15" textLength="32.3" lengthAdjust="spacingAndGlyphs" >0.74011</text>
<g shape-rendering="crispEdges">
<rect x="4" y="565" width="3" height="1" fill="#c0c0c0" />
<rect x="10" y="565" width="3" height="1" fill="#c0c0c0" />
<rect x="16" y="565" width="3" height="1" fill="#c0c0c0" />
<rect x="22" y="565" width="3" height="1" fill="#c0c0c0" />
<rect x="28" y="565" width="3" height="1" fill="#c0c0c0" />
<rect x="34" y="565" width="3" height="1" fill="#c0c0c0" />
<rect x="40" y="565" width="3" height="1" fill="#c0c0c0" />
<rect x="46" y="565" width="3" height="1" fill="#c0c0c0" />
<rect x="52" y="565" width="3" height="1" fill="#c0c0c0" />
<rect x="58" y="565" width="3" height="1" fill="#c0c0c0" />
<rect x="64" y="565" width="3" height="1" fill="#c0c0c0" />
<rect x="70" y="565" width="3" height="1" fill="#c0c0c0" />
<rect x="76" y="565" width="3" height="1" fill="#c0c0c0" />
<rect x="82" y="565" width="3" height="1" fill="#c0c0c0" />
<rect x="88" y="565" width="3" height="1" fill="#c0c0c0" />
<rect x="94" y="565" width="3" height="1" fill="#c0c0c0" />
<rect x="100" y="565" width="3" height="1" fill="#c0c0c0" />
<rect x="106" y="565" width="3" height="1" fill="#c0c0c0" />
<rect x="112" y="565" width="3" height="1" fill="#c0c0c0" />
<rect x="118" y="565" width="3" height="1" fill="#c0c0c0" />
<rect x="124" y="565" width="3" height="1" fill="#c0c0c0" />
<rect x="130" y="565" width="3" height="1" fill="#c0c0c0" />
<rect x="136" y="565" width="3" height="1" fill="#c0c0c0" />
<rect x="142" y="565" width="3" height="1" fill="#c0c0c0" />
<rect x="148" y="565" width="3" height="1" fill="#c0c0c0" />
<rect x="154" y="565" width="3" height="1" fill="#c0c0c0" />
<rect x="160" y="565" width="3" height="1" fill="#c0c0c0" />
<rect x="166" y="565" width="3" height="1" fill="#c0c0c0" />
<rect x="172" y="565" width="3" height="1" fill="#c0c0c0" />
<rect x="178" y="565" width="3" height="1" fill="#c0c0c0" />
<rect x="184" y="565" width="3" height="1" fill="#c0c0c0" />
<rect x="190" y="565" width="3" height="1" fill="#c0c0c0" />
<rect x="196" y="565" width="3" height="1" fill="#c0c0c0" />
<rect x="202" y="565" width="3" height="1" fill="#c0c0c0" />
<rect x="208" y="565" width="3" height="1" fill="#c0c0c0" />
<rect x="214" y="565" width="3" height="1" fill="#c0c0c0" />
<rect x="220" y="565" width="3" height="1" fill="#c0c0c0" />
<rect x="226" y="565" width="3" height="1" fill="#c0c0c0" />
<rect x="232" y="565" width="3" height="1" fill="#c0c0c0" />
<rect x="238" y="565" width="3" height="1" fill="#c0c0c0" />
<rect x="244" y="565" width="3" height="1" fill="#c0c0c0" />
<rect x="250" y="565" width="3" height="1" fill="#c0c0c0" />
<rect x="256" y="565" width="3" height="1" fill="#c0c0c0" />
<rect x="262" y="565" width="3" height="1" fill="#c0c0c0" />
<rect x="268" y="565" width="3" height="1" fill="#c0c0c0" />
<rect x="274" y="565" width="3" height="1" fill="#c0c0c0" />
<rect x="280" y="565" width="3" height="1" fill="#c0c0c0" />
<rect x="286" y="565" width="3" height="1" fill="#c0c0c0" />
<rect x="292" y="565" width="3" height="1" fill="#c0c0c0" />
<rect x="298" y="565" width="3" height="1" fill="#c0c0c0" />
<rect x="304" y="565" width="3" height="1" fill="#c0c0c0" />
<rect x="310" y="565" width="3" height="1" fill="#c0c0c0" />
<rect x="316" y="565" width="3" height="1" fill="#c0c0c0" />
<rect x="322" y="565" width="3" height="1" fill="#c0c0c0" />
<rect x="328" y="565" width="3" height="1" fill="#c0c0c0" />
<rect x="334" y="565" width="3" height="1" fill="#c0c0c0" />
<rect x="340" y="565" width="3" height="1" fill="#c0c0c0" />
<rect x="346" y="565" width="3" height="1" fill="#c0c0c0" />
<rect x="352" y="565" width="3" height="1" fill="#c0c0c0" />
<rect x="358" y="565" width="3" height="1" fill="#c0c0c0" />
<rect x="364" y="565" width="3" height="1" fill="#c0c0c0" />
<rect x="370" y="565" width="3" height="1" fill="#c0c0c0" />
<rect x="376" y="565" width="3" height="1" fill="#c0c0c0" />
<rect x="382" y="565" width="3" height="1" fill="#c0c0c0" />
<rect x="388" y="565" width="3" height="1" fill="#c0c0c0" />
<rect x="394" y="565" width="3" height="1" fill="#c0c0c0" />
<rect x="400" y="565" width="3" height="1" fill="#c0c0c0" />
<rect x="406" y="565" width="3" height="1" fill="#c0c0c0" />
<rect x="412" y="565" width="3" height="1" fill="#c0c0c0" />
<rect x="418" y="565" width="3" height="1" fill="#c0c0c0" />
<rect x="424" y="565" width="3" height="1" fill="#c0c0c0" />
<rect x="430" y="565" width="3" height="1" fill="#c0c0c0" />
<rect x="436" y="565" width="3" height="1" fill="#c0c0c0" />
<rect x="442" y="565" width="3" height="1" fill="#c0c0c0" />
<rect x="448" y="565" width="3" height="1" fill="#c0c0c0" />
<rect x="454" y="565" width="3" height="1" fill="#c0c0c0" />
<rect x="460" y="565" width="3" height="1" fill="#c0c0c0" />
<rect x="466" y="565" width="3" height="1" fill="#c0c0c0" />
<rect x="472" y="565" width="3" height="1" fill="#c0c0c0" />
<rect x="478" y="565" width="3" height="1" fill="#c0c0c0" />
<rect x="484" y="565" width="3" height="1" fill="#c0c0c0" />
<rect x="490" y="565" width="3" height="1" fill="#c0c0c0" />
<rect x="496" y="565" width="3" height="1" fill="#c0c0c0" />
<rect x="502" y="565" width="3" height="1" fill="#c0c0c0" />
<rect x="508" y="565" width="3" height="1" fill="#c0c0c0" />
<rect x="514" y="565" width="3" height="1" fill="#c0c0c0" />
<rect x="520" y="565" width="3" height="1" fill="#c0c0c0" />
<rect x="526" y="565" width="3" height="1" fill="#c0c0c0" />
<rect x="532" y="565" width="3" height="1" fill="#c0c0c0" />
<rect x="538" y="565" width="3" height="1" fill="#c0c0c0" />
<rect x="544" y="565" width="3" height="1" fill="#c0c0c0" />
<rect x="550" y="565" width="3" height="1" fill="#c0c0c0" />
<rect x="556" y="565" width="3" height="1" fill="#c0c0c0" />
<rect x="562" y="565" width="3" height="1" fill="#c0c0c0" />
<rect x="568" y="565" width="3" height="1" fill="#c0c0c0" />
<rect x="574" y="565" width="3" height="1" fill="#c0c0c0" />
<rect x="580" y="565" width="3" height="1" fill="#c0c0c0" />
<rect x="586" y="565" width="3" height="1" fill="#c0c0c0" />
<rect x="592" y="565" width="3" height="1" fill="#c0c0c0" />
<rect x="598" y="565" width="3" height="1" fill="#c0c0c0" />
<rect x="604" y="565" width="3" height="1" fill="#c0c0c0" />
<rect x="610" y="565" width="3" height="1" fill="#c0c0c0" />
<rect x="616" y="565" width="3" height="1" fill="#c0c0c0" />
<rect x="622" y="565" width="3" height="1" fill="#c0c0c0" />
<rect x="628" y="565" width="3" height="1" fill="#c0c0c0" />
<rect x="634" y="565" width="3" height="1" fill="#c0c0c0" />
<rect x="640" y="565" width="3" height="1" fill="#c0c0c0" />
<rect x="646" y="565" width="3" height="1" fill="#c0c0c0" />
<rect x="652" y="565" width="3" height="1" fill="#c0c0c0" />
<rect x="658" y="565" width="3" height="1" fill="#c0c0c0" />
<rect x="664" y="565" width="3" height="1" fill="#c0c0c0" />
<rect x="670" y="565" width="3" height="1" fill="#c0c0c0" />
<rect x="676" y="565" width="3" height="1" fill="#c0c0c0" />
<rect x="682" y="565" width="3" height="1" fill="#c0c0c0" />
<rect x="688" y="565" width="3" height="1" fill="#c0c0c0" />
<rect x="694" y="565" width="3" height="1" fill="#c0c0c0" />
<rect x="700" y="565" width="3" height="1" fill="#c0c0c0" />
<rect x="706" y="565" width="3" height="1" fill="#c0c0c0" />
<rect x="712" y="565" width="3" height="1" fill="#c0c0c0" />
<rect x="718" y="565" width="3" height="1" fill="#c0c0c0" />
<rect x="724" y="565" width="3" height="1" fill="#c0c0c0" />
<rect x="730" y="565" width="3" height="1" fill="#c0c0c0" />
<rect x="736" y="565" width="3" height="1" fill="#c0c0c0" />
<rect x="742" y="565" width="3" height="1" fill="#c0c0c0" />
<rect x="748" y="565" width="3" height="1" fill="#c0c0c0" />
<rect x="754" y="565" width="3" height="1" fill="#c0c0c0" />
<rect x="760" y="565" width="3" height="1" fill="#c0c0c0" />
<rect x="766" y="565" width="3" height="1" fill="#c0c0c0" />
<rect x="772" y="565" width="3" height="1" fill="#c0c0c0" />
<rect x="778" y="565" width="3" height="1" fill="#c0c0c0" />
<rect x="784" y="565" width="3" height="1" fill="#c0c0c0" />
<rect x="790" y="565" width="3" height="1" fill="#c0c0c0" />
<rect x="796" y="565" width="3" height="1" fill="#c0c0c0" />
<rect x="802" y="565" width="3" height="1" fill="#c0c0c0" />
<rect x="808" y="565" width="3" height="1" fill="#c0c0c0" />
<rect x="814" y="565" width="3" height="1" fill="#c0c0c0" />
<rect x="820" y="565" width="3" height="1" fill="#c0c0c0" />
<rect x="826" y="565" width="3" height="1" fill="#c0c0c0" />
<rect x="832" y="565" width="3" height="1" fill="#c0c0c0" />
<rect x="838" y="565" width="3" height="1" fill="#c0c0c0" />
<rect x="844" y="565" width="3" height="1" fill="#c0c0c0" />
<rect x="850" y="565" width="3" height="1" fill="#c0c0c0" />
<rect x="856" y="565" width="3" height="1" fill="#c0c0c0" />
<rect x="862" y="565" width="3" height="1" fill="#c0c0c0" />
<rect x="868" y="565" width="3" height="1" fill="#c0c0c0" />
<rect x="874" y="565" width="3" height="1" fill="#c0c0c0" />
<rect x="880" y="565" width="3" height="1" fill="#c0c0c0" />
<rect x="886" y="565" width="3" height="1" fill="#c0c0c0" />
<rect x="892" y="565" width="3" height="1" fill="#c0c0c0" />
<rect x="898" y="565" width="3" height="1" fill="#c0c0c0" />
<rect x="904" y="565" width="3" height="1" fill="#c0c0c0" />
<rect x="910" y="565" width="3" height="1" fill="#c0c0c0" />
<rect x="916" y="565" width="3" height="1" fill="#c0c0c0" />
<rect x="922" y="565" width="3" height="1" fill="#c0c0c0" />
<rect x="928" y="565" width="3" height="1" fill="#c0c0c0" />
<rect x="934" y="565" width="3" height="1" fill="#c0c0c0" />
<rect x="940" y="565" width="3" height="1" fill="#c0c0c0" />
<rect x="946" y="565" width="3" height="1" fill="#c0c0c0" />
<rect x="952" y="565" width="3" height="1" fill="#c0c0c0" />
<rect x="958" y="565" width="3" height="1" fill="#c0c0c0" />
<rect x="964" y="565" width="3" height="1" fill="#c0c0c0" />
<rect x="970" y="565" width="3" height="1" fill="#c0c0c0" />
<rect x="976" y="565" width="3" height="1" fill="#c0c0c0" />
<rect x="982" y="565" width="3" height="1" fill="#c0c0c0" />
<rect x="988" y="565" width="3" height="1" fill="#c0c0c0" />
<rect x="994" y="565" width="3" height="1" fill="#c0c0c0" />
<rect x="1000" y="565" width="3" height="1" fill="#c0c0c0" />
<rect x="1006" y="565" width="3" height="1" fill="#c0c0c0" />
<rect x="1012" y="565" width="3" height="1" fill="#c0c0c0" />
<rect x="1018" y="565" width="3" height="1" fill="#c0c0c0" />
<rect x="1024" y="565" width="3" height="1" fill="#c0c0c0" />
<rect x="1030" y="565" width="3" height="1" fill="#c0c0c0" />
<rect x="1036" y="565" width="3" height="1" fill="#c0c0c0" />
<rect x="1042" y="565" width="3" height="1" fill="#c0c0c0" />
<rect x="1048" y="565" width="3" height="1" fill="#c0c0c0" />
<rect x="1054" y="565" width="3" height="1" fill="#c0c0c0" />
<rect x="1060" y="565" width="3" height="1" fill="#c0c0c0" />
<rect x="1066" y="565" width="3" height="1" fill="#c0c0c0" />
<rect x="1072" y="565" width="3" height="1" fill="#c0c0c0" />
<rect x="1078" y="565" width="3" height="1" fill="#c0c0c0" />
<rect x="1084" y="565" width="3" height="1" fill="#c0c0c0" />
<rect x="1090" y="565" width="3" height="1" fill="#c0c0c0" />
<rect x="1096" y="565" width="3" height="1" fill="#c0c0c0" />
<rect x="1102" y="565" width="3" height="1" fill="#c0c0c0" />
<rect x="1108" y="565" width="3" height="1" fill="#c0c0c0" />
<rect x="1114" y="565" width="3" height="1" fill="#c0c0c0" />
<rect x="1120" y="565" width="3" height="1" fill="#c0c0c0" />
<rect x="1126" y="565" width="3" height="1" fill="#c0c0c0" />
<rect x="1132" y="565" width="3" height="1" fill="#c0c0c0" />
<rect x="1138" y="565" width="3" height="1" fill="#c0c0c0" />
<rect x="1144" y="565" width="3" height="1" fill="#c0c0c0" />
<rect x="1150" y="565" width="3" height="1" fill="#c0c0c0" />
<rect x="1156" y="565" width="3" height="1" fill="#c0c0c0" />
<rect x="1162" y="565" width="3" height="1" fill="#c0c0c0" />
<rect x="1168" y="565" width="3" height="1" fill="#c0c0c0" />
<rect x="1174" y="565" width="3" height="1" fill="#c0c0c0" />
<rect x="1180" y="565" width="3" height="1" fill="#c0c0c0" />
<rect x="1186" y="565" width="3" height="1" fill="#c0c0c0" />
<rect x="1192" y="565" width="3" height="1" fill="#c0c0c0" />
<rect x="1198" y="565" width="3" height="1" fill="#c0c0c0" />
<rect x="1204" y="565" width="3" height="1" fill="#c0c0c0" />
<rect x="1210" y="565" width="3" height="1" fill="#c0c0c0" />
<rect x="1216" y="565" width="3" height="1" fill="#c0c0c0" />
<rect x="1222" y="565" width="3" height="1" fill="#c0c0c0" />
<rect x="1228" y="565" width="3" height="1" fill="#c0c0c0" />
<rect x="1234" y="565" width="3" height="1" fill="#c0c0c0" />
<rect x="1240" y="565" width="3" height="1" fill="#c0c0c0" />
<rect x="1246" y="565" width="3" height="1" fill="#c0c0c0" />
<rect x="1252" y="565" width="3" height="1" fill="#c0c0c0" />
<rect x="1258" y="565" width="3" height="1" fill="#c0c0c0" />
<rect x="1264" y="565" width="3" height="1" fill="#c0c0c0" />
<rect x="1270" y="565" width="3" height="1" fill="#c0c0c0" />
<rect x="1276" y="565" width="3" height="1" fill="#c0c0c0" />
<rect x="1282" y="565" width="3" height="1" fill="#c0c0c0" />
<rect x="1288" y="565" width="3" height="1" fill="#c0c0c0" />
<rect x="1294" y="565" width="3" height="1" fill="#c0c0c0" />
<rect x="1300" y="565" width="3" height="1" fill="#c0c0c0" />
<rect x="1306" y="565" width="3" height="1" fill="#c0c0c0" />
<rect x="1312" y="565" width="3" height="1" fill="#c0c0c0" />
<rect x="1318" y="565" width="3" height="1" fill="#c0c0c0" />
<rect x="1324" y="565" width="3" height="1" fill="#c0c0c0" />
<rect x="1330" y="565" width="3" height="1" fill="#c0c0c0" />
<rect x="1336" y="565" width="3" height="1" fill="#c0c0c0" />
<rect x="1342" y="565" width="3" height="1" fill="#c0c0c0" />
<rect x="1348" y="565" width="3" height="1" fill="#c0c0c0" />
<rect x="1354" y="565" width="3" height="1" fill="#c0c0c0" />
<rect x="1360" y="565" width="3" height="1" fill="#c0c0c0" />
<rect x="1366" y="565" width="3" height="1" fill="#c0c0c0" />
<rect x="1372" y="565" width="3" height="1" fill="#c0c0c0" />
<rect x="1378" y="565" width="3" height="1" fill="#c0c0c0" />
<rect x="1384" y="565" width="3" height="1" fill="#c0c0c0" />
<rect x="1390" y="565" width="3" height="1" fill="#c0c0c0" />
<rect x="1396" y="565" width="3" height="1" fill="#c0c0c0" />
<rect x="1402" y="565" width="3" height="1" fill="#c0c0c0" />
<rect x="1408" y="565" width="3" height="1" fill="#c0c0c0" />
<rect x="1414" y="565" width="3" height="1" fill="#c0c0c0" />
<rect x="1420" y="565" width="3" height="1" fill="#c0c0c0" />
<rect x="1426" y="565" width="3" height="1" fill="#c0c0c0" />
<rect x="1432" y="565" width="3" height="1" fill="#c0c0c0" />
<rect x="1438" y="565" width="3" height="1" fill="#c0c0c0" />
<rect x="1444" y="565" width="3" height="1" fill="#c0c0c0" />
<rect x="1450" y="565" width="3" height="1" fill="#c0c0c0" />
<rect x="1456" y="565" width="3" height="1" fill="#c0c0c0" />
<rect x="1462" y="565" width="3" height="1" fill="#c0c0c0" />
<rect x="1468" y="565" width="3" height="1" fill="#c0c0c0" />
<rect x="1474" y="565" width="3" height="1" fill="#c0c0c0" />
<rect x="1480" y="565" width="3" height="1" fill="#c0c0c0" />
<rect x="1486" y="565" width="3" height="1" fill="#c0c0c0" />
<rect x="1492" y="565" width="3" height="1" fill="#c0c0c0" />
<rect x="1498" y="565" width="3" height="1" fill="#c0c0c0" />
<rect x="1504" y="565" width="3" height="1" fill="#c0c0c0" />
<rect x="1510" y="565" width="3" height="1" fill="#c0c0c0" />
<rect x="1516" y="565" width="3" height="1" fill="#c0c0c0" />
<rect x="1522" y="565" width="3" height="1" fill="#c0c0c0" />
<rect x="1528" y="565" width="3" height="1" fill="#c0c0c0" />
<rect x="1534" y="565" width="3" height="1" fill="#c0c0c0" />
<rect x="1540" y="565" width="3" height="1" fill="#c0c0c0" />
<rect x="1546" y="565" width="3" height="1" fill="#c0c0c0" />
<rect x="1552" y="565" width="3" height="1" fill="#c0c0c0" />
<rect x="1558" y="565" width="3" height="1" fill="#c0c0c0" />
<rect x="1564" y="565" width="3" height="1" fill="#c0c0c0" />
<rect x="1570" y="565" width="3" height="1" fill="#c0c0c0" />
<rect x="1576" y="565" width="3" height="1" fill="#c0c0c0" />
<rect x="1582" y="565" width="3" height="1" fill="#c0c0c0" />
<rect x="1588" y="565" width="3" height="1" fill="#c0c0c0" />
<rect x="1594" y="565" width="3" height="1" fill="#c0c0c0" />
<rect x="4" y="601" width="3" height="1" fill="#c0c0c0" />
<rect x="10" y="601" width="3" height="1" fill="#c0c0c0" />
<rect x="16" y="601" width="3" height="1" fill="#c0c0c0" />
<rect x="22" y="601" width="3" height="1" fill="#c0c0c0" />
<rect x="28" y="601" width="3" height="1" fill="#c0c0c0" />
<rect x="34" y="601" width="3" height="1" fill="#c0c0c0" />
<rect x="40" y="601" width="3" height="1" fill="#c0c0c0" />
<rect x="46" y="601" width="3" height="1" fill="#c0c0c0" />
<rect x="52" y="601" width="3" height="1" fill="#c0c0c0" />
<rect x="58" y="601" width="3" height="1" fill="#c0c0c0" />
<rect x="64" y="601" width="3" height="1" fill="#c0c0c0" />
<rect x="70" y="601" width="3" height="1" fill="#c0c0c0" />
<rect x="76" y="601" width="3" height="1" fill="#c0c0c0" />
<rect x="82" y="601" width="3" height="1" fill="#c0c0c0" />
<rect x="88" y="601" width="3" height="1" fill="#c0c0c0" />
<rect x="94" y="601" width="3" height="1" fill="#c0c0c0" />
<rect x="100" y="601" width="3" height="1" fill="#c0c0c0" />
<rect x="106" y="601" width="3" height="1" fill="#c0c0c0" />
<rect x="112" y="601" width="3" height="1" fill="#c0c0c0" />
<rect x="118" y="601" width="3" height="1" fill="#c0c0c0" />
<rect x="124" y="601" width="3" height="1" fill="#c0c0c0" />
<rect x="130" y="601" width="3" height="1" fill="#c0c0c0" />
<rect x="136" y="601" width="3" height="1" fill="#c0c0c0" />
<rect x="142" y="601" width="3" height="1" fill="#c0c0c0" />
<rect x="148" y="601" width="3" height="1" fill="#c0c0c0" />
<rect x="154" y="601" width="3" height="1" fill="#c0c0c0" />
<rect x="160" y="601" width="3" height="1" fill="#c0c0c0" />
<rect x="166" y="601" width="3" height="1" fill="#c0c0c0" />
<rect x="172" y="601" width="3" height="1" fill="#c0c0c0" />
<rect x="178" y="601" width="3" height="1" fill="#c0c0c0" />
<rect x="184" y="601" width="3" height="1" fill="#c0c0c0" />
<rect x="190" y="601" width="3" height="1" fill="#c0c0c0" />
<rect x="196" y="601" width="3" height="1" fill="#c0c0c0" />
<rect x="202" y="601" width="3" height="1" fill="#c0c0c0" />
<rect x="208" y="601" width="3" height="1" fill="#c0c0c0" />
<rect x="214" y="601" width="3" height="1" fill="#c0c0c0" />
<rect x="220" y="601" width="3" height="1" fill="#c0c0c0" />
<rect x="226" y="601" width="3" height="1" fill="#c0c0c0" />
<rect x="232" y="601" width="3" height="1" fill="#c0c0c0" />
<rect x="238" y="601" width="3" height="1" fill="#c0c0c0" />
<rect x="244" y="601" width="3" height="1" fill="#c0c0c0" />
<rect x="250" y="601" width="3" height="1" fill="#c0c0c0" />
<rect x="256" y="601" width="3" height="1" fill="#c0c0c0" />
<rect x="262" y="601" width="3" height="1" fill="#c0c0c0" />
<rect x="268" y="601" width="3" height="1" fill="#c0c0c0" />
<rect x="274" y="601" width="3" height="1" fill="#c0c0c0" />
<rect x="280" y="601" width="3" height="1" fill="#c0c0c0" />
<rect x="286" y="601" width="3" height="1" fill="#c0c0c0" />
<rect x="292" y="601" width="3" height="1" fill="#c0c0c0" />
<rect x="298" y="601" width="3" height="1" fill="#c0c0c0" />
<rect x="304" y="601" width="3" height="1" fill="#c0c0c0" />
<rect x="310" y="601" width="3" height="1" fill="#c0c0c0" />
<rect x="316" y="601" width="3" height="1" fill="#c0c0c0" />
<rect x="322" y="601" width="3" height="1" fill="#c0c0c0" />
<rect x="328" y="601" width="3" height="1" fill="#c0c0c0" />
<rect x="334" y="601" width="3" height="1" fill="#c0c0c0" />
<rect x="340" y="601" width="3" height="1" fill="#c0c0c0" />
<rect x="346" y="601" width="3" height="1" fill="#c0c0c0" />
<rect x="352" y="601" width="3" height="1" fill="#c0c0c0" />
<rect x="358" y="601" width="3" height="1" fill="#c0c0c0" />
<rect x="364" y="601" width="3" height="1" fill="#c0c0c0" />
<rect x="370" y="601" width="3" height="1" fill="#c0c0c0" />
<rect x="376" y="601" width="3" height="1" fill="#c0c0c0" />
<rect x="382" y="601" width="3" height="1" fill="#c0c0c0" />
<rect x="388" y="601" width="3" height="1" fill="#c0c0c0" />
<rect x="394" y="601" width="3" height="1" fill="#c0c0c0" />
<rect x="400" y="601" width="3" height="1" fill="#c0c0c0" />
<rect x="406" y="601" width="3" height="1" fill="#c0c0c0" />
<rect x="412" y="601" width="3" height="1" fill="#c0c0c0" />
<rect x="418" y="601" width="3" height="1" fill="#c0c0c0" />
<rect x="424" y="601" width="3" height="1" fill="#c0c0c0" />
<rect x="430" y="601" width="3" height="1" fill="#c0c0c0" />
<rect x="436" y="601" width="3" height="1" fill="#c0c0c0" />
<rect x="442" y="601" width="3" height="1" fill="#c0c0c0" />
<rect x="448" y="601" width="3" height="1" fill="#c0c0c0" />
<rect x="454" y="601" width="3" height="1" fill="#c0c0c0" />
<rect x="460" y="601" width="3" height="1" fill="#c0c0c0" />
<rect x="466" y="601" width="3" height="1" fill="#c0c0c0" />
<rect x="472" y="601" width="3" height="1" fill="#c0c0c0" />
<rect x="478" y="601" width="3" height="1" fill="#c0c0c0" />
<rect x="484" y="601" width="3" height="1" fill="#c0c0c0" />
<rect x="490" y="601" width="3" height="1" fill="#c0c0c0" />
<rect x="496" y="601" width="3" height="1" fill="#c0c0c0" />
<rect x="502" y="601" width="3" height="1" fill="#c0c0c0" />
<rect x="508" y="601" width="3" height="1" fill="#c0c0c0" />
<rect x="514" y="601" width="3" height="1" fill="#c0c0c0" />
<rect x="520" y="601" width="3" height="1" fill="#c0c0c0" />
<rect x="526" y="601" width="3" height="1" fill="#c0c0c0" />
<rect x="532" y="601" width="3" height="1" fill="#c0c0c0" />
<rect x="538" y="601" width="3" height="1" fill="#c0c0c0" />
<rect x="544" y="601" width="3" height="1" fill="#c0c0c0" />
<rect x="550" y="601" width="3" height="1" fill="#c0c0c0" />
<rect x="556" y="601" width="3" height="1" fill="#c0c0c0" />
<rect x="562" y="601" width="3" height="1" fill="#c0c0c0" />
<rect x="568" y="601" width="3" height="1" fill="#c0c0c0" />
<rect x="574" y="601" width="3" height="1" fill="#c0c0c0" />
<rect x="580" y="601" width="3" height="1" fill="#c0c0c0" />
<rect x="586" y="601" width="3" height="1" fill="#c0c0c0" />
<rect x="592" y="601" width="3" height="1" fill="#c0c0c0" />
<rect x="598" y="601" width="3" height="1" fill="#c0c0c0" />
<rect x="604" y="601" width="3" height="1" fill="#c0c0c0" />
<rect x="610" y="601" width="3" height="1" fill="#c0c0c0" />
<rect x="616" y="601" width="3" height="1" fill="#c0c0c0" />
<rect x="622" y="601" width="3" height="1" fill="#c0c0c0" />
<rect x="628" y="601" width="3" height="1" fill="#c0c0c0" />
<rect x="634" y="601" width="3" height="1" fill="#c0c0c0" />
<rect x="640" y="601" width="3" height="1" fill="#c0c0c0" />
<rect x="646" y="601" width="3" height="1" fill="#c0c0c0" />
<rect x="652" y="601" width="3" height="1" fill="#c0c0c0" />
<rect x="658" y="601" width="3" height="1" fill="#c0c0c0" />
<rect x="664" y="601" width="3" height="1" fill="#c0c0c0" />
<rect x="670" y="601" width="3" height="1" fill="#c0c0c0" />
<rect x="676" y="601" width="3" height="1" fill="#c0c0c0" />
<rect x="682" y="601" width="3" height="1" fill="#c0c0c0" />
<rect x="688" y="601" width="3" height="1" fill="#c0c0c0" />
<rect x="694" y="601" width="3" height="1" fill="#c0c0c0" />
<rect x="700" y="601" width="3" height="1" fill="#c0c0c0" />
<rect x="706" y="601" width="3" height="1" fill="#c0c0c0" />
<rect x="712" y="601" width="3" height="1" fill="#c0c0c0" />
<rect x="718" y="601" width="3" height="1" fill="#c0c0c0" />
<rect x="724" y="601" width="3" height="1" fill="#c0c0c0" />
<rect x="730" y="601" width="3" height="1" fill="#c0c0c0" />
<rect x="736" y="601" width="3" height="1" fill="#c0c0c0" />
<rect x="742" y="601" width="3" height="1" fill="#c0c0c0" />
<rect x="748" y="601" width="3" height="1" fill="#c0c0c0" />
<rect x="754" y="601" width="3" height="1" fill="#c0c0c0" />
<rect x="760" y="601" width="3" height="1" fill="#c0c0c0" />
<rect x="766" y="601" width="3" height="1" fill="#c0c0c0" />
<rect x="772" y="601" width="3" height="1" fill="#c0c0c0" />
<rect x="778" y="601" width="3" height="1" fill="#c0c0c0" />
<rect x="784" y="601" width="3" height="1" fill="#c0c0c0" />
<rect x="790" y="601" width="3" height="1" fill="#c0c0c0" />
<rect x="796" y="601" width="3" height="1" fill="#c0c0c0" />
<rect x="802" y="601" width="3" height="1" fill="#c0c0c0" />
<rect x="808" y="601" width="3" height="1" fill="#c0c0c0" />
<rect x="814" y="601" width="3" height="1" fill="#c0c0c0" />
<rect x="820" y="601" width="3" height="1" fill="#c0c0c0" />
<rect x="826" y="601" width="3" height="1" fill="#c0c0c0" />
<rect x="832" y="601" width="3" height="1" fill="#c0c0c0" />
<rect x="838" y="601" width="3" height="1" fill="#c0c0c0" />
<rect x="844" y="601" width="3" height="1" fill="#c0c0c0" />
<rect x="850" y="601" width="3" height="1" fill="#c0c0c0" />
<rect x="856" y="601" width="3" height="1" fill="#c0c0c0" />
<rect x="862" y="601" width="3" height="1" fill="#c0c0c0" />
<rect x="868" y="601" width="3" height="1" fill="#c0c0c0" />
<rect x="874" y="601" width="3" height="1" fill="#c0c0c0" />
<rect x="880" y="601" width="3" height="1" fill="#c0c0c0" />
<rect x="886" y="601" width="3" height="1" fill="#c0c0c0" />
<rect x="892" y="601" width="3" height="1" fill="#c0c0c0" />
<rect x="898" y="601" width="3" height="1" fill="#c0c0c0" />
<rect x="904" y="601" width="3" height="1" fill="#c0c0c0" />
<rect x="910" y="601" width="3" height="1" fill="#c0c0c0" />
<rect x="916" y="601" width="3" height="1" fill="#c0c0c0" />
<rect x="922" y="601" width="3" height="1" fill="#c0c0c0" />
<rect x="928" y="601" width="3" height="1" fill="#c0c0c0" />
<rect x="934" y="601" width="3" height="1" fill="#c0c0c0" />
<rect x="940" y="601" width="3" height="1" fill="#c0c0c0" />
<rect x="946" y="601" width="3" height="1" fill="#c0c0c0" />
<rect x="952" y="601" width="3" height="1" fill="#c0c0c0" />
<rect x="958" y="601" width="3" height="1" fill="#c0c0c0" />
<rect x="964" y="601" width="3" height="1" fill="#c0c0c0" />
<rect x="970" y="601" width="3" height="1" fill="#c0c0c0" />
<rect x="976" y="601" width="3" height="1" fill="#c0c0c0" />
<rect x="982" y="601" width="3" height="1" fill="#c0c0c0" />
<rect x="988" y="601" width="3" height="1" fill="#c0c0c0" />
<rect x="994" y="601" width="3" height="1" fill="#c0c0c0" />
<rect x="1000" y="601" width="3" height="1" fill="#c0c0c0" />
<rect x="1006" y="601" width="3" height="1" fill="#c0c0c0" />
<rect x="1012" y="601" width="3" height="1" fill="#c0c0c0" />
<rect x="1018" y="601" width="3" height="1" fill="#c0c0c0" />
<rect x="1024" y="601" width="3" height="1" fill="#c0c0c0" />
<rect x="1030" y="601" width="3" height="1" fill="#c0c0c0" />
<rect x="1036" y="601" width="3" height="1" fill="#c0c0c0" />
<rect x="1042" y="601" width="3" height="1" fill="#c0c0c0" />
<rect x="1048" y="601" width="3" height="1" fill="#c0c0c0" />
<rect x="1054" y="601" width="3" height="1" fill="#c0c0c0" />
<rect x="1060" y="601" width="3" height="1" fill="#c0c0c0" />
<rect x="1066" y="601" width="3" height="1" fill="#c0c0c0" />
<rect x="1072" y="601" width="3" height="1" fill="#c0c0c0" />
<rect x="1078" y="601" width="3" height="1" fill="#c0c0c0" />
<rect x="1084" y="601" width="3" height="1" fill="#c0c0c0" />
<rect x="1090" y="601" width="3" height="1" fill="#c0c0c0" />
<rect x="1096" y="601" width="3" height="1" fill="#c0c0c0" />
<rect x="1102" y="601" width="3" height="1" fill="#c0c0c0" />
<rect x="1108" y="601" width="3" height="1" fill="#c0c0c0" />
<rect x="1114" y="601" width="3" height="1" fill="#c0c0c0" />
<rect x="1120" y="601" width="3" height="1" fill="#c0c0c0" />
<rect x="1126" y="601" width="3" height="1" fill="#c0c0c0" />
<rect x="1132" y="601" width="3" height="1" fill="#c0c0c0" />
<rect x="1138" y="601" width="3" height="1" fill="#c0c0c0" />
<rect x="1144" y="601" width="3" height="1" fill="#c0c0c0" />
<rect x="1150" y="601" width="3" height="1" fill="#c0c0c0" />
<rect x="1156" y="601" width="3" height="1" fill="#c0c0c0" />
<rect x="1162" y="601" width="3" height="1" fill="#c0c0c0" />
<rect x="1168" y="601" width="3" height="1" fill="#c0c0c0" />
<rect x="1174" y="601" width="3" height="1" fill="#c0c0c0" />
<rect x="1180" y="601" width="3" height="1" fill="#c0c0c0" />
<rect x="1186" y="601" width="3" height="1" fill="#c0c0c0" />
<rect x="1192" y="601" width="3" height="1" fill="#c0c0c0" />
<rect x="1198" y="601" width="3" height="1" fill="#c0c0c0" />
<rect x="1204" y="601" width="3" height="1" fill="#c0c0c0" />
<rect x="1210" y="601" width="3" height="1" fill="#c0c0c0" />
<rect x="1216" y="601" width="3" height="1" fill="#c0c0c0" />
<rect x="1222" y="601" width="3" height="1" fill="#c0c0c0" />
<rect x="1228" y="601" width="3" height="1" fill="#c0c0c0" />
<rect x="1234" y="601" width="3" height="1" fill="#c0c0c0" />
<rect x="1240" y="601" width="3" height="1" fill="#c0c0c0" />
<rect x="1246" y="601" width="3" height="1" fill="#c0c0c0" />
<rect x="1252" y="601" width="3" height="1" fill="#c0c0c0" />
<rect x="1258" y="601" width="3" height="1" fill="#c0c0c0" />
<rect x="1264" y="601" width="3" height="1" fill="#c0c0c0" />
<rect x="1270" y="601" width="3" height="1" fill="#c0c0c0" />
<rect x="1276" y="601" width="3" height="1" fill="#c0c0c0" />
<rect x="1282" y="601" width="3" height="1" fill="#c0c0c0" />
<rect x="1288" y="601" width="3" height="1" fill="#c0c0c0" />
<rect x="1294" y="601" width="3" height="1" fill="#c0c0c0" />
<rect x="1300" y="601" width="3" height="1" fill="#c0c0c0" />
<rect x="1306" y="601" width="3" height="1" fill="#c0c0c0" />
<rect x="1312" y="601" width="3" height="1" fill="#c0c0c0" />
<rect x="1318" y="601" width="3" height="1" fill="#c0c0c0" />
<rect x="1324" y="601" width="3" height="1" fill="#c0c0c0" />
<rect x="1330" y="601" width="3" height="1" fill="#c0c0c0" />
<rect x="1336" y="601" width="3" height="1" fill="#c0c0c0" />
<rect x="1342" y="601" width="3" height="1" fill="#c0c0c0" />
<rect x="1348" y="601" width="3" height="1" fill="#c0c0c0" />
<rect x="1354" y="601" width="3" height="1" fill="#c0c0c0" />
<rect x="1360" y="601" width="3" height="1" fill="#c0c0c0" />
<rect x="1366" y="601" width="3" height="1" fill="#c0c0c0" />
<rect x="1372" y="601" width="3" height="1" fill="#c0c0c0" />
<rect x="1378" y="601" width="3" height="1" fill="#c0c0c0" />
<rect x="1384" y="601" width="3" height="1" fill="#c0c0c0" />
<rect x="1390" y="601" width="3" height="1" fill="#c0c0c0" />
<rect x="1396" y="601" width="3" height="1" fill="#c0c0c0" />
<rect x="1402" y="601" width="3" height="1" fill="#c0c0c0" />
<rect x="1408" y="601" width="3" height="1" fill="#c0c0c0" />
<rect x="1414" y="601" width="3" height="1" fill="#c0c0c0" />
<rect x="1420" y="601" width="3" height="1" fill="#c0c0c0" />
<rect x="1426" y="601" width="3" height="1" fill="#c0c0c0" />
<rect x="1432" y="601" width="3" height="1" fill="#c0c0c0" />
<rect x="1438" y="601" width="3" height="1" fill="#c0c0c0" />
<rect x="1444" y="601" width="3" height="1" fill="#c0c0c0" />
<rect x="1450" y="601" width="3" height="1" fill="#c0c0c0" />
<rect x="1456" y="601" width="3" height="1" fill="#c0c0c0" />
<rect x="1462" y="601" width="3" height="1" fill="#c0c0c0" />
<rect x="1468" y="601" width="3" height="1" fill="#c0c0c0" />
<rect x="1474" y="601" width="3" height="1" fill="#c0c0c0" />
<rect x="1480" y="601" width="3" height="1" fill="#c0c0c0" />
<rect x="1486" y="601" width="3" height="1" fill="#c0c0c0" />
<rect x="1492" y="601" width="3" height="1" fill="#c0c0c0" />
<rect x="1498" y="601" width="3" height="1" fill="#c0c0c0" />
<rect x="1504" y="601" width="3" height="1" fill="#c0c0c0" />
<rect x="1510" y="601" width="3" height="1" fill="#c0c0c0" />
<rect x="1516" y="601" width="3" height="1" fill="#c0c0c0" />
<rect x="1522" y="601" width="3" height="1" fill="#c0c0c0" />
<rect x="1528" y="601" width="3" height="1" fill="#c0c0c0" />
<rect x="1534" y="601" width="3" height="1" fill="#c0c0c0" />
<rect x="1540" y="601" width="3" height="1" fill="#c0c0c0" />
<rect x="1546" y="601" width="3" height="1" fill="#c0c0c0" />
<rect x="1552" y="601" width="3" height="1" fill="#c0c0c0" />
<rect x="1558" y="601" width="3" height="1" fill="#c0c0c0" />
<rect x="1564" y="601" width="3" height="1" fill="#c0c0c0" />
<rect x="1570" y="601" width="3" height="1" fill="#c0c0c0" />
<rect x="1576" y="601" width="3" height="1" fill="#c0c0c0" />
<rect x="1582" y="601" width="3" height="1" fill="#c0c0c0" />
<rect x="1588" y="601" width="3" height="1" fill="#c0c0c0" />
<rect x="1594" y="601" width="3" height="1" fill="#c0c0c0" />
</g>
<polyline points="3.5,566.3 10.8,567.5 20.5,575.8 27.5,571.9 35.1,566.3 42.8,565.0 51.8,574.5 59.5,576.5 67.2,575.8 74.9,576.8 83.8,575.0 91.5,576.5 99.2,575.8 106.9,574.7 114.5,571.5 123.5,567.8 131.8,567.8 139.0,578.5 147.9,581.9 159.5,580.4 171.0,578.5 180.0,572.7 189.0,568.1 196.7,561.4 205.5,561.4 212.0,559.9 219.7,561.1 227.5,571.4 236.5,579.1 244.1,579.1 253.1,575.8 259.5,577.0 268.5,584.7 276.1,580.4 282.5,579.1 290.2,579.9 300.5,579.9 308.2,577.0 314.5,578.1 323.5,574.0 332.5,579.9 340.2,577.8 347.9,579.9 355.5,589.3 363.3,593.2 372.3,600.1 378.7,602.7 386.4,604.0 395.4,602.7 403.1,597.0 410.5,593.2 419.5,586.3 427.2,583.7 436.1,588.1 443.8,586.0 451.5,584.0 459.2,586.8 466.9,588.1 475.9,586.0 484.9,577.8 492.5,577.8 500.2,581.7 507.9,586.0 515.5,584.7 524.5,594.0 533.5,592.9 542.5,592.9 547.5,591.7 555.4,595.0 564.3,586.8 570.8,588.1 579.7,586.8 587.4,585.0 595.1,586.8 603.3,583.7 613.1,592.4 620.8,596.5 628.5,595.0 636.1,594.0 643.8,592.9 651.5,579.1 659.2,579.1 668.2,570.6 677.2,570.6 684.9,570.6 691.3,568.8 700.2,572.9 710.5,572.9 723.3,575.8 732.3,573.5 740.0,568.8 747.7,571.9 755.4,569.6 764.3,577.5 772.0,574.0 779.7,574.0 787.4,578.5 795.1,573.5 802.8,571.9 811.8,571.1 820.8,568.1 828.2,569.3 835.9,572.7 843.5,574.7 852.5,571.4 860.2,566.8 867.9,568.8 875.6,567.8 883.3,568.1 891.8,572.7 900.0,568.3 909.0,564.2 915.4,562.7 923.1,562.7 932.0,562.7 939.7,562.7 948.7,560.6 956.4,558.1 964.1,558.8 972.3,558.8 979.5,570.1 987.7,576.5 994.9,571.7 1002.5,569.9 1011.5,569.9 1020.0,574.5 1028.2,569.6 1037.2,564.5 1043.5,562.9 1052.5,567.0 1059.0,567.8 1067.9,565.0 1075.6,562.9 1083.3,565.8 1091.0,564.0 1097.4,566.8 1107.7,576.0 1115.4,574.0 1124.3,572.9 1132.0,569.9 1139.7,579.1 1147.4,577.8 1156.4,581.1 1164.1,579.1 1171.8,575.2 1180.5,573.7 1187.7,578.9 1197.5,578.9 1203.3,580.8 1211.5,576.9 1220.2,584.1 1226.1,585.6 1231.9,584.7 1236.5,585.0 1244.3,588.9 1251.5,590.8 1259.3,586.7" fill="none" stroke="#1e90ff" stroke-width="1" shape-rendering="crispEdges" />
<text x="7.2" y="548.8" font-size="9.3" fill="#000" stroke="#000" stroke-width="0.15" textLength="67.4" lengthAdjust="spacingAndGlyphs" >RSI(14) 46.2158</text>
<rect x="1596" y="538" width="1" height="1" fill="#000" shape-rendering="crispEdges"/>
<rect x="1596" y="565" width="2" height="1" fill="#000" shape-rendering="crispEdges"/>
<rect x="1596" y="601" width="2" height="1" fill="#000" shape-rendering="crispEdges"/>
<rect x="1596" y="628" width="1" height="1" fill="#000" shape-rendering="crispEdges"/>
<text x="1599.5" y="547" font-size="9" fill="#000" stroke="#000" stroke-width="0.15" >100</text>
<text x="1599" y="569" font-size="9" fill="#000" stroke="#000" stroke-width="0.15" >70</text>
<text x="1599" y="605" font-size="9" fill="#000" stroke="#000" stroke-width="0.15" >30</text>
<text x="1599.5" y="626" font-size="9" fill="#000" stroke="#000" stroke-width="0.15" >0</text>
<g shape-rendering="crispEdges">
<rect x="3" y="650" width="1" height="39" fill="#c0c0c0" />
<rect x="11" y="649" width="1" height="40" fill="#c0c0c0" />
<rect x="19" y="653" width="1" height="36" fill="#c0c0c0" />
<rect x="27" y="654" width="1" height="35" fill="#c0c0c0" />
<rect x="35" y="652" width="1" height="37" fill="#c0c0c0" />
<rect x="43" y="650" width="1" height="39" fill="#c0c0c0" />
<rect x="51" y="652" width="1" height="37" fill="#c0c0c0" />
<rect x="59" y="655" width="1" height="34" fill="#c0c0c0" />
<rect x="67" y="657" width="1" height="32" fill="#c0c0c0" />
<rect x="75" y="659" width="1" height="30" fill="#c0c0c0" />
<rect x="83" y="661" width="1" height="28" fill="#c0c0c0" />
<rect x="91" y="662" width="1" height="27" fill="#c0c0c0" />
<rect x="99" y="664" width="1" height="25" fill="#c0c0c0" />
<rect x="107" y="665" width="1" height="24" fill="#c0c0c0" />
<rect x="115" y="664" width="1" height="25" fill="#c0c0c0" />
<rect x="123" y="663" width="1" height="26" fill="#c0c0c0" />
<rect x="131" y="661" width="1" height="28" fill="#c0c0c0" />
<rect x="139" y="664" width="1" height="25" fill="#c0c0c0" />
<rect x="147" y="668" width="1" height="21" fill="#c0c0c0" />
<rect x="155" y="670" width="1" height="19" fill="#c0c0c0" />
<rect x="163" y="672" width="1" height="17" fill="#c0c0c0" />
<rect x="171" y="673" width="1" height="16" fill="#c0c0c0" />
<rect x="179" y="672" width="1" height="17" fill="#c0c0c0" />
<rect x="187" y="668" width="1" height="21" fill="#c0c0c0" />
<rect x="195" y="663" width="1" height="26" fill="#c0c0c0" />
<rect x="203" y="658" width="1" height="31" fill="#c0c0c0" />
<rect x="211" y="653" width="1" height="36" fill="#c0c0c0" />
<rect x="219" y="650" width="1" height="39" fill="#c0c0c0" />
<rect x="227" y="651" width="1" height="38" fill="#c0c0c0" />
<rect x="235" y="655" width="1" height="34" fill="#c0c0c0" />
<rect x="243" y="658" width="1" height="31" fill="#c0c0c0" />
<rect x="251" y="660" width="1" height="29" fill="#c0c0c0" />
<rect x="259" y="662" width="1" height="27" fill="#c0c0c0" />
<rect x="267" y="667" width="1" height="22" fill="#c0c0c0" />
<rect x="275" y="668" width="1" height="21" fill="#c0c0c0" />
<rect x="283" y="669" width="1" height="20" fill="#c0c0c0" />
<rect x="291" y="670" width="1" height="19" fill="#c0c0c0" />
<rect x="299" y="672" width="1" height="17" fill="#c0c0c0" />
<rect x="307" y="672" width="1" height="17" fill="#c0c0c0" />
<rect x="315" y="673" width="1" height="16" fill="#c0c0c0" />
<rect x="323" y="670" width="1" height="19" fill="#c0c0c0" />
<rect x="331" y="673" width="1" height="16" fill="#c0c0c0" />
<rect x="339" y="673" width="1" height="16" fill="#c0c0c0" />
<rect x="347" y="674" width="1" height="15" fill="#c0c0c0" />
<rect x="355" y="679" width="1" height="10" fill="#c0c0c0" />
<rect x="363" y="685" width="1" height="4" fill="#c0c0c0" />
<rect x="371" y="688" width="1" height="5" fill="#c0c0c0" />
<rect x="379" y="688" width="1" height="14" fill="#c0c0c0" />
<rect x="387" y="688" width="1" height="23" fill="#c0c0c0" />
<rect x="395" y="688" width="1" height="29" fill="#c0c0c0" />
<rect x="403" y="688" width="1" height="30" fill="#c0c0c0" />
<rect x="411" y="688" width="1" height="30" fill="#c0c0c0" />
<rect x="419" y="688" width="1" height="27" fill="#c0c0c0" />
<rect x="427" y="688" width="1" height="22" fill="#c0c0c0" />
<rect x="435" y="688" width="1" height="20" fill="#c0c0c0" />
<rect x="443" y="688" width="1" height="18" fill="#c0c0c0" />
<rect x="451" y="688" width="1" height="16" fill="#c0c0c0" />
<rect x="459" y="688" width="1" height="13" fill="#c0c0c0" />
<rect x="467" y="688" width="1" height="11" fill="#c0c0c0" />
<rect x="475" y="688" width="1" height="12" fill="#c0c0c0" />
<rect x="483" y="688" width="1" height="7" fill="#c0c0c0" />
<rect x="491" y="688" width="1" height="4" fill="#c0c0c0" />
<rect x="499" y="688" width="1" height="2" fill="#c0c0c0" />
<rect x="507" y="688" width="1" height="3" fill="#c0c0c0" />
<rect x="515" y="688" width="1" height="3" fill="#c0c0c0" />
<rect x="523" y="688" width="1" height="7" fill="#c0c0c0" />
<rect x="531" y="688" width="1" height="11" fill="#c0c0c0" />
<rect x="539" y="688" width="1" height="12" fill="#c0c0c0" />
<rect x="547" y="688" width="1" height="14" fill="#c0c0c0" />
<rect x="555" y="688" width="1" height="18" fill="#c0c0c0" />
<rect x="563" y="688" width="1" height="15" fill="#c0c0c0" />
<rect x="571" y="688" width="1" height="15" fill="#c0c0c0" />
<rect x="579" y="688" width="1" height="12" fill="#c0c0c0" />
<rect x="587" y="688" width="1" height="12" fill="#c0c0c0" />
<rect x="595" y="688" width="1" height="11" fill="#c0c0c0" />
<rect x="603" y="688" width="1" height="9" fill="#c0c0c0" />
<rect x="611" y="688" width="1" height="11" fill="#c0c0c0" />
<rect x="619" y="688" width="1" height="16" fill="#c0c0c0" />
<rect x="627" y="688" width="1" height="18" fill="#c0c0c0" />
<rect x="635" y="688" width="1" height="20" fill="#c0c0c0" />
<rect x="643" y="688" width="1" height="20" fill="#c0c0c0" />
<rect x="651" y="688" width="1" height="15" fill="#c0c0c0" />
<rect x="659" y="688" width="1" height="9" fill="#c0c0c0" />
<rect x="667" y="688" width="1" height="1" fill="#c0c0c0" />
<rect x="675" y="682" width="1" height="7" fill="#c0c0c0" />
<rect x="683" y="677" width="1" height="12" fill="#c0c0c0" />
<rect x="691" y="671" width="1" height="18" fill="#c0c0c0" />
<rect x="699" y="668" width="1" height="21" fill="#c0c0c0" />
<rect x="707" y="666" width="1" height="23" fill="#c0c0c0" />
<rect x="715" y="665" width="1" height="24" fill="#c0c0c0" />
<rect x="723" y="666" width="1" height="23" fill="#c0c0c0" />
<rect x="731" y="665" width="1" height="24" fill="#c0c0c0" />
<rect x="739" y="662" width="1" height="27" fill="#c0c0c0" />
<rect x="747" y="661" width="1" height="28" fill="#c0c0c0" />
<rect x="755" y="660" width="1" height="29" fill="#c0c0c0" />
<rect x="763" y="661" width="1" height="28" fill="#c0c0c0" />
<rect x="771" y="661" width="1" height="28" fill="#c0c0c0" />
<rect x="779" y="662" width="1" height="27" fill="#c0c0c0" />
<rect x="787" y="663" width="1" height="26" fill="#c0c0c0" />
<rect x="795" y="661" width="1" height="28" fill="#c0c0c0" />
<rect x="803" y="661" width="1" height="28" fill="#c0c0c0" />
<rect x="811" y="659" width="1" height="30" fill="#c0c0c0" />
<rect x="819" y="657" width="1" height="32" fill="#c0c0c0" />
<rect x="827" y="656" width="1" height="33" fill="#c0c0c0" />
<rect x="835" y="657" width="1" height="32" fill="#c0c0c0" />
<rect x="843" y="658" width="1" height="31" fill="#c0c0c0" />
<rect x="851" y="658" width="1" height="31" fill="#c0c0c0" />
<rect x="859" y="656" width="1" height="33" fill="#c0c0c0" />
<rect x="867" y="655" width="1" height="34" fill="#c0c0c0" />
<rect x="875" y="654" width="1" height="35" fill="#c0c0c0" />
<rect x="883" y="653" width="1" height="36" fill="#c0c0c0" />
<rect x="891" y="656" width="1" height="33" fill="#c0c0c0" />
<rect x="899" y="654" width="1" height="35" fill="#c0c0c0" />
<rect x="907" y="651" width="1" height="38" fill="#c0c0c0" />
<rect x="915" y="648" width="1" height="41" fill="#c0c0c0" />
<rect x="923" y="647" width="1" height="42" fill="#c0c0c0" />
<rect x="931" y="646" width="1" height="43" fill="#c0c0c0" />
<rect x="939" y="645" width="1" height="44" fill="#c0c0c0" />
<rect x="947" y="644" width="1" height="45" fill="#c0c0c0" />
<rect x="955" y="641" width="1" height="48" fill="#c0c0c0" />
<rect x="963" y="640" width="1" height="49" fill="#c0c0c0" />
<rect x="971" y="639" width="1" height="50" fill="#c0c0c0" />
<rect x="979" y="642" width="1" height="47" fill="#c0c0c0" />
<rect x="987" y="646" width="1" height="43" fill="#c0c0c0" />
<rect x="995" y="648" width="1" height="41" fill="#c0c0c0" />
<rect x="1003" y="648" width="1" height="41" fill="#c0c0c0" />
<rect x="1011" y="649" width="1" height="40" fill="#c0c0c0" />
<rect x="1019" y="652" width="1" height="37" fill="#c0c0c0" />
<rect x="1027" y="652" width="1" height="37" fill="#c0c0c0" />
<rect x="1035" y="649" width="1" height="40" fill="#c0c0c0" />
<rect x="1043" y="645" width="1" height="44" fill="#c0c0c0" />
<rect x="1051" y="644" width="1" height="45" fill="#c0c0c0" />
<rect x="1059" y="644" width="1" height="45" fill="#c0c0c0" />
<rect x="1067" y="643" width="1" height="46" fill="#c0c0c0" />
<rect x="1075" y="640" width="1" height="49" fill="#c0c0c0" />
<rect x="1083" y="639" width="1" height="50" fill="#c0c0c0" />
<rect x="1091" y="638" width="1" height="51" fill="#c0c0c0" />
<rect x="1099" y="639" width="1" height="50" fill="#c0c0c0" />
<rect x="1107" y="643" width="1" height="46" fill="#c0c0c0" />
<rect x="1115" y="645" width="1" height="44" fill="#c0c0c0" />
<rect x="1123" y="646" width="1" height="43" fill="#c0c0c0" />
<rect x="1131" y="647" width="1" height="42" fill="#c0c0c0" />
<rect x="1139" y="651" width="1" height="38" fill="#c0c0c0" />
<rect x="1147" y="654" width="1" height="35" fill="#c0c0c0" />
<rect x="1155" y="658" width="1" height="31" fill="#c0c0c0" />
<rect x="1163" y="661" width="1" height="28" fill="#c0c0c0" />
<rect x="1171" y="661" width="1" height="28" fill="#c0c0c0" />
<rect x="1179" y="661" width="1" height="28" fill="#c0c0c0" />
<rect x="1187" y="663" width="1" height="26" fill="#c0c0c0" />
<rect x="1195" y="665" width="1" height="24" fill="#c0c0c0" />
<rect x="1203" y="668" width="1" height="21" fill="#c0c0c0" />
<rect x="1211" y="668" width="1" height="21" fill="#c0c0c0" />
<rect x="1219" y="671" width="1" height="18" fill="#c0c0c0" />
<rect x="1227" y="675" width="1" height="14" fill="#c0c0c0" />
<rect x="1235" y="678" width="1" height="11" fill="#c0c0c0" />
<rect x="1243" y="682" width="1" height="7" fill="#c0c0c0" />
<rect x="1251" y="686" width="1" height="3" fill="#c0c0c0" />
<rect x="1259" y="688" width="1" height="1" fill="#c0c0c0" />
</g>
<polyline points="3.5,649.2 12.0,649.0 21.0,649.7 36.5,649.7 51.8,650.0 67.2,651.8 77.5,653.1 85.1,655.4 97.9,656.1 115.9,658.7 131.3,661.8 144.1,663.3 159.5,665.6 174.9,666.9 190.2,667.9 203.1,667.9 210.8,665.4 221.0,663.8 228.7,661.8 236.4,660.0 246.7,657.2 256.9,656.7 269.7,656.9 282.5,658.7 292.8,661.8 300.5,665.1 313.3,666.9 323.5,669.7 334.5,670.4 340.5,670.4 346.5,671.4 352.5,672.0 358.5,673.0 364.5,674.5 370.5,676.0 376.5,678.9 382.5,682.0 388.5,684.8 394.5,689.0 401.0,692.4 407.0,696.3 413.0,700.7 419.0,704.0 425.0,707.0 431.0,709.3 437.0,711.2 443.0,712.5 458.0,712.5 472.0,709.5 482.3,705.4 492.5,703.1 505.4,700.2 515.6,697.7 525.9,696.7 533.5,695.9 549.0,695.9 559.2,697.2 566.9,699.2 577.2,701.8 590.0,702.8 615.5,702.8 628.5,703.1 641.3,704.1 656.7,703.8 666.9,702.8 677.2,699.7 687.4,694.1 697.7,689.5 707.9,684.3 718.2,678.7 728.4,672.8 736.1,669.5 746.4,666.9 756.7,664.3 769.5,663.1 782.3,662.0 802.8,661.3 820.5,660.5 838.5,659.2 859.0,657.7 876.9,656.1 897.4,655.6 910.2,654.3 923.1,652.8 933.3,650.5 946.1,648.5 959.0,646.7 971.8,644.6 979.5,642.8 997.4,642.8 1005.1,643.8 1020.5,644.6 1028.2,646.4 1041.0,647.7 1059.0,647.7 1069.2,646.4 1079.5,645.1 1092.3,643.3 1100.0,642.0 1138.5,642.0 1148.7,643.8 1156.4,646.7 1164.1,648.4 1174.3,652.8 1180.5,653.6 1186.5,655.9 1193.0,656.8 1199.3,659.0 1204.9,659.9 1211.1,662.0 1216.8,663.0 1223.0,664.9 1228.6,665.9 1234.9,667.8 1241.1,669.0 1246.8,670.9 1253.0,673.3 1259.3,676.1" fill="none" stroke="#ff0000" stroke-width="1" shape-rendering="crispEdges" stroke-dasharray="3,3"/>
<text x="7.2" y="643.8" font-size="9.3" fill="#000" stroke="#000" stroke-width="0.15" textLength="147.8" lengthAdjust="spacingAndGlyphs" >MACD(12,26,9) 0.000115 0.002129</text>
<rect x="1596" y="688" width="2" height="1" fill="#000" shape-rendering="crispEdges"/>
<text x="1599.5" y="642" font-size="9" fill="#000" stroke="#000" stroke-width="0.15" >0.00884</text>
<text x="1599.5" y="692" font-size="9" fill="#000" stroke="#000" stroke-width="0.15" >0.00</text>
<text x="1597.5" y="721.5" font-size="9" fill="#000" stroke="#000" stroke-width="0.15" >-0.005651</text>
<rect x="3" y="725" width="1" height="3" fill="#000" shape-rendering="crispEdges"/>
<text x="2" y="736.6" font-size="9.3" fill="#000" stroke="#000" stroke-width="0.15" >31 Jul 2020</text>
<rect x="67" y="725" width="1" height="3" fill="#000" shape-rendering="crispEdges"/>
<text x="66" y="736.6" font-size="9.3" fill="#000" stroke="#000" stroke-width="0.15" >10 Aug 2020</text>
<rect x="131" y="725" width="1" height="3" fill="#000" shape-rendering="crispEdges"/>
<text x="130" y="736.6" font-size="9.3" fill="#000" stroke="#000" stroke-width="0.15" >19 Aug 2020</text>
<rect x="195" y="725" width="1" height="3" fill="#000" shape-rendering="crispEdges"/>
<text x="194" y="736.6" font-size="9.3" fill="#000" stroke="#000" stroke-width="0.15" >28 Aug 2020</text>
<rect x="259" y="725" width="1" height="3" fill="#000" shape-rendering="crispEdges"/>
<text x="258" y="736.6" font-size="9.3" fill="#000" stroke="#000" stroke-width="0.15" >7 Sep 2020</text>
<rect x="323" y="725" width="1" height="3" fill="#000" shape-rendering="crispEdges"/>
<text x="322" y="736.6" font-size="9.3" fill="#000" stroke="#000" stroke-width="0.15" >16 Sep 2020</text>
<rect x="387" y="725" width="1" height="3" fill="#000" shape-rendering="crispEdges"/>
<text x="386" y="736.6" font-size="9.3" fill="#000" stroke="#000" stroke-width="0.15" >25 Sep 2020</text>
<rect x="451" y="725" width="1" height="3" fill="#000" shape-rendering="crispEdges"/>
<text x="450" y="736.6" font-size="9.3" fill="#000" stroke="#000" stroke-width="0.15" >5 Oct 2020</text>
<rect x="515" y="725" width="1" height="3" fill="#000" shape-rendering="crispEdges"/>
<text x="514" y="736.6" font-size="9.3" fill="#000" stroke="#000" stroke-width="0.15" >14 Oct 2020</text>
<rect x="579" y="725" width="1" height="3" fill="#000" shape-rendering="crispEdges"/>
<text x="578" y="736.6" font-size="9.3" fill="#000" stroke="#000" stroke-width="0.15" >23 Oct 2020</text>
<rect x="643" y="725" width="1" height="3" fill="#000" shape-rendering="crispEdges"/>
<text x="642" y="736.6" font-size="9.3" fill="#000" stroke="#000" stroke-width="0.15" >2 Nov 2020</text>
<rect x="707" y="725" width="1" height="3" fill="#000" shape-rendering="crispEdges"/>
<text x="706" y="736.6" font-size="9.3" fill="#000" stroke="#000" stroke-width="0.15" >11 Nov 2020</text>
<rect x="771" y="725" width="1" height="3" fill="#000" shape-rendering="crispEdges"/>
<text x="770" y="736.6" font-size="9.3" fill="#000" stroke="#000" stroke-width="0.15" >20 Nov 2020</text>
<rect x="835" y="725" width="1" height="3" fill="#000" shape-rendering="crispEdges"/>
<text x="834" y="736.6" font-size="9.3" fill="#000" stroke="#000" stroke-width="0.15" >30 Nov 2020</text>
<rect x="899" y="725" width="1" height="3" fill="#000" shape-rendering="crispEdges"/>
<text x="898" y="736.6" font-size="9.3" fill="#000" stroke="#000" stroke-width="0.15" >9 Dec 2020</text>
<rect x="963" y="725" width="1" height="3" fill="#000" shape-rendering="crispEdges"/>
<text x="962" y="736.6" font-size="9.3" fill="#000" stroke="#000" stroke-width="0.15" >18 Dec 2020</text>
<rect x="1027" y="725" width="1" height="3" fill="#000" shape-rendering="crispEdges"/>
<text x="1026" y="736.6" font-size="9.3" fill="#000" stroke="#000" stroke-width="0.15" >29 Dec 2020</text>
<rect x="1091" y="725" width="1" height="3" fill="#000" shape-rendering="crispEdges"/>
<text x="1090" y="736.6" font-size="9.3" fill="#000" stroke="#000" stroke-width="0.15" >8 Jan 2021</text>
<rect x="1155" y="725" width="1" height="3" fill="#000" shape-rendering="crispEdges"/>
<text x="1154" y="736.6" font-size="9.3" fill="#000" stroke="#000" stroke-width="0.15" >18 Jan 2021</text>
<rect x="1219" y="725" width="1" height="3" fill="#000" shape-rendering="crispEdges"/>
<text x="1218" y="736.6" font-size="9.3" fill="#000" stroke="#000" stroke-width="0.15" >27 Jan 2021</text>
<g shape-rendering="crispEdges">
<rect x="0" y="745" width="1638" height="1" fill="#e3e3e3" />
<rect x="0" y="747" width="1638" height="1" fill="#000" />
<rect x="0" y="748" width="1638" height="1" fill="#ffffff" />
<rect x="0" y="749" width="1638" height="18" fill="#f0f0f0" />
<rect x="0" y="767" width="1638" height="1" fill="#fbfbfb" />
<rect x="208" y="747" width="104" height="19" fill="#000" />
<rect x="209" y="747" width="102" height="18" fill="#fff" />
</g>
<text x="16.5" y="761.5" font-size="12" fill="#6e6e6e" textLength="79.5" lengthAdjust="spacingAndGlyphs" >EURUSD,Daily</text>
<text x="118" y="761.5" font-size="12" fill="#6e6e6e" textLength="79" lengthAdjust="spacingAndGlyphs" >USDCHF,Daily</text>
<text x="219.5" y="761.5" font-size="12" fill="#000" textLength="81.5" lengthAdjust="spacingAndGlyphs" >AUDUSD,Daily</text>
<text x="323" y="761.5" font-size="12" fill="#6e6e6e" textLength="81" lengthAdjust="spacingAndGlyphs" >USDCAD,Daily</text>
<text x="426.4" y="761.5" font-size="12" fill="#6e6e6e" textLength="82.6" lengthAdjust="spacingAndGlyphs" >USDCNH,Daily</text>
<text x="532" y="761.5" font-size="12" fill="#6e6e6e" textLength="80" lengthAdjust="spacingAndGlyphs" >EURUSD,Daily</text>
<text x="636" y="761.5" font-size="12" fill="#6e6e6e" textLength="68" lengthAdjust="spacingAndGlyphs" >GBPUSD,H4</text>
<text x="725.6" y="761.5" font-size="12" fill="#6e6e6e" textLength="94.9" lengthAdjust="spacingAndGlyphs" >XAUUSD,Weekly</text>
<text x="842.8" y="761.5" font-size="12" fill="#6e6e6e" textLength="49.5" lengthAdjust="spacingAndGlyphs" >HK50,H1</text>
<text x="915.4" y="761.5" font-size="12" fill="#6e6e6e" textLength="55.6" lengthAdjust="spacingAndGlyphs" >UK100,H1</text>
<text x="995.4" y="761.5" font-size="12" fill="#6e6e6e" textLength="55.9" lengthAdjust="spacingAndGlyphs" >UK100,H1</text>
<text x="1074.9" y="761.5" font-size="12" fill="#6e6e6e" textLength="57.0" lengthAdjust="spacingAndGlyphs" >GER30,H1</text>
<text x="1154.2" y="761.5" font-size="12" fill="#6e6e6e" textLength="54.2" lengthAdjust="spacingAndGlyphs" >FRA40,H1</text>
<text x="1231.4" y="761.5" font-size="12" fill="#6e6e6e" textLength="76.5" lengthAdjust="spacingAndGlyphs" >USOil,Weekly</text>
<text x="1329.9" y="761.5" font-size="12" fill="#6e6e6e" textLength="62.4" lengthAdjust="spacingAndGlyphs" >USDJPY,H1</text>
<text x="1414.3" y="761.5" font-size="12" fill="#6e6e6e" textLength="58.4" lengthAdjust="spacingAndGlyphs" >DJ30,Daily</text>
<text x="1494" y="761.5" font-size="12" fill="#6e6e6e" textLength="78.2" lengthAdjust="spacingAndGlyphs" >CHINA300,H1</text>
<g shape-rendering="crispEdges">
<rect x="108" y="750" width="1" height="14" fill="#6e6e6e" />
<rect x="417" y="750" width="1" height="14" fill="#6e6e6e" />
<rect x="520" y="750" width="1" height="14" fill="#6e6e6e" />
<rect x="624" y="750" width="1" height="14" fill="#6e6e6e" />
<rect x="716" y="750" width="1" height="14" fill="#6e6e6e" />
<rect x="833" y="750" width="1" height="14" fill="#6e6e6e" />
<rect x="904" y="750" width="1" height="14" fill="#6e6e6e" />
<rect x="985" y="750" width="1" height="14" fill="#6e6e6e" />
<rect x="1064" y="750" width="1" height="14" fill="#6e6e6e" />
<rect x="1144" y="750" width="1" height="14" fill="#6e6e6e" />
<rect x="1221" y="750" width="1" height="14" fill="#6e6e6e" />
<rect x="1320" y="750" width="1" height="14" fill="#6e6e6e" />
<rect x="1405" y="750" width="1" height="14" fill="#6e6e6e" />
<rect x="1484" y="750" width="1" height="14" fill="#6e6e6e" />
<rect x="1584" y="750" width="1" height="14" fill="#6e6e6e" />
</g>
<clipPath id="tabclip"><rect x="1590" y="748" width="17" height="20"/></clipPath>
<text x="1594.2" y="761.5" font-size="12" fill="#6e6e6e" clip-path="url(#tabclip)">USDCHF</text>
<path d="M1614,758 L1610.5,761.5 L1614,765 Z" fill="#a0a0a0" transform="translate(0,-3)"/>
<path d="M1628,755 L1632,758.5 L1628,762 Z" fill="#000"/>
</svg></body></html>
